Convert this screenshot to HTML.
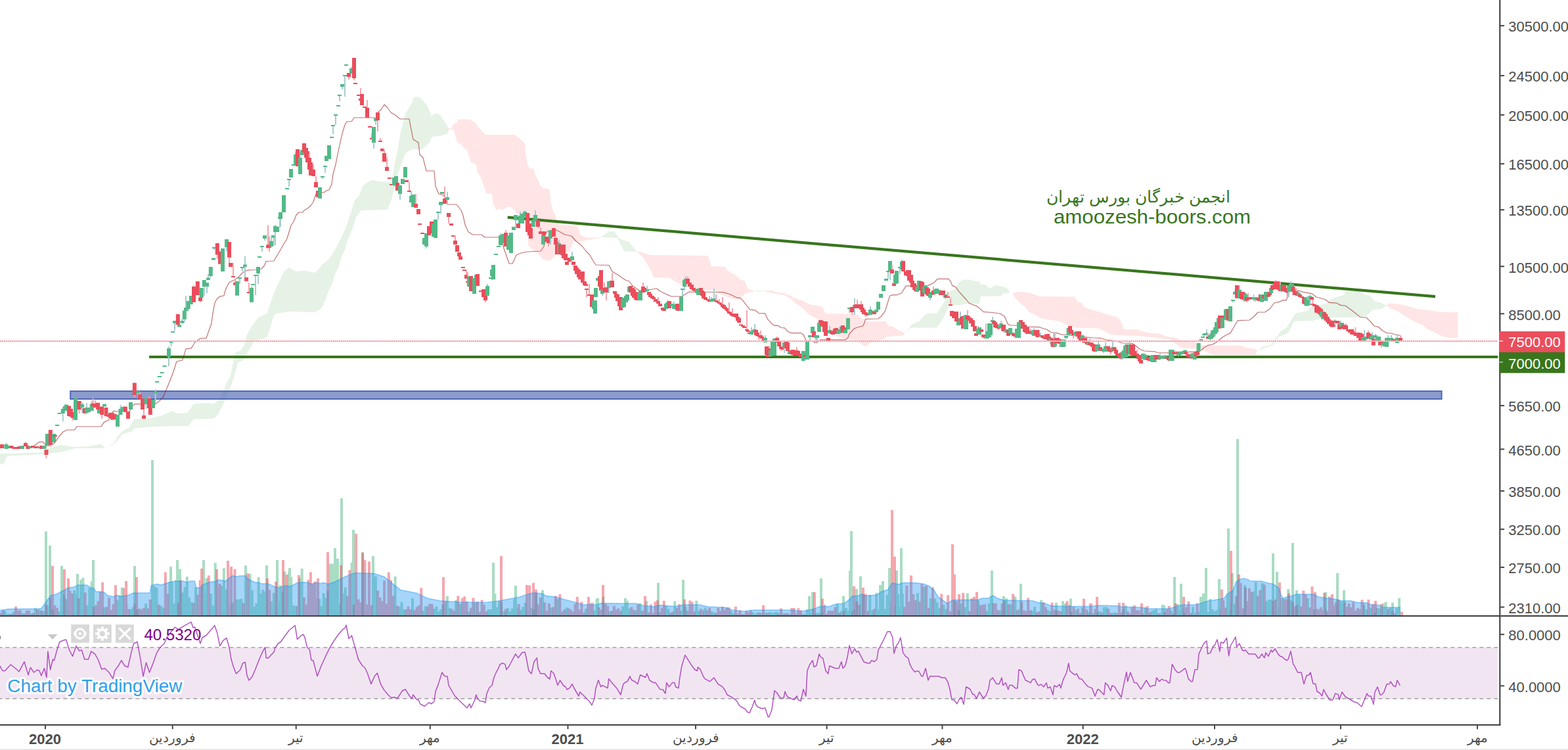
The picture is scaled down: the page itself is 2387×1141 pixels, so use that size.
<!DOCTYPE html>
<html><head><meta charset="utf-8"><title>Chart</title><style>html,body{margin:0;padding:0;background:#fff;overflow:hidden}</style></head><body>
<svg width="2387" height="1141" viewBox="0 0 2387 1141" style="display:block;font-family:'Liberation Sans',sans-serif">
<rect width="2387" height="1141" fill="#fff"/>
<defs><clipPath id="cm"><rect x="0" y="0" width="2282.5" height="936"/></clipPath><clipPath id="cr"><rect x="0" y="938" width="2282.5" height="164"/></clipPath></defs>
<g clip-path="url(#cm)">
<path d="M5.6 937v-7.4h4v7.4zM8.9 937v-2.9h4v2.9zM12.2 937v-2.9h4v2.9zM18.8 937v-6.2h4v6.2zM32 937v-4.1h4v4.1zM45.2 937v-3.5h4v3.5zM51.8 937v-11.7h4v11.7zM58.4 937v-8.8h4v8.8zM65 937v-6.9h4v6.9zM71.6 937v-15.6h4v15.6zM78.2 937v-10.3h4v10.3zM88.1 937v-6.8h4v6.8zM91.4 937v-27.2h4v27.2zM94.7 937v-32.9h4v32.9zM98 937v-26.3h4v26.3zM111.2 937v-38.8h4v38.8zM114.5 937v-33.2h4v33.2zM121.1 937v-55h4v55zM124.4 937v-58.1h4v58.1zM131 937v-16.2h4v16.2zM134.3 937v-42.4h4v42.4zM137.6 937v-52.8h4v52.8zM157.4 937v-12.9h4v12.9zM177.2 937v-24.3h4v24.3zM180.5 937v-31.2h4v31.2zM183.8 937v-43.3h4v43.3zM197 937v-10.1h4v10.1zM200.3 937v-13.6h4v13.6zM206.9 937v-9.7h4v9.7zM220.1 937v-18.7h4v18.7zM230 937v-14.2h4v14.2zM233.3 937v-44.9h4v44.9zM236.6 937v-43h4v43zM243.2 937v-15.2h4v15.2zM246.5 937v-12.5h4v12.5zM256.4 937v-51.5h4v51.5zM259.7 937v-52.3h4v52.3zM263 937v-19h4v19zM266.3 937v-55h4v55zM276.2 937v-35.6h4v35.6zM279.5 937v-44h4v44zM282.8 937v-59.7h4v59.7zM286.1 937v-27.9h4v27.9zM289.4 937v-20.9h4v20.9zM296 937v-43.8h4v43.8zM305.9 937v-47.5h4v47.5zM309.2 937v-33.9h4v33.9zM312.5 937v-57.3h4v57.3zM319.1 937v-34h4v34zM322.4 937v-15.7h4v15.7zM325.7 937v-80.7h4v80.7zM335.6 937v-45.9h4v45.9zM338.9 937v-72.8h4v72.8zM342.2 937v-40.5h4v40.5zM352.1 937v-20.2h4v20.2zM358.7 937v-25.3h4v25.3zM362 937v-24.9h4v24.9zM365.3 937v-26h4v26zM371.9 937v-76.7h4v76.7zM378.5 937v-64.1h4v64.1zM381.8 937v-39.2h4v39.2zM385.1 937v-14.3h4v14.3zM388.4 937v-19.1h4v19.1zM391.7 937v-58.9h4v58.9zM395 937v-34.1h4v34.1zM398.3 937v-39.7h4v39.7zM401.6 937v-36.8h4v36.8zM411.5 937v-22.2h4v22.2zM414.8 937v-34.8h4v34.8zM421.4 937v-23.8h4v23.8zM424.7 937v-46.8h4v46.8zM428 937v-36.4h4v36.4zM431.3 937v-67.8h4v67.8zM437.9 937v-66.6h4v66.6zM441.2 937v-59.4h4v59.4zM444.5 937v-16.1h4v16.1zM447.8 937v-15.1h4v15.1zM454.4 937v-57.7h4v57.7zM457.7 937v-72.1h4v72.1zM484.1 937v-26.1h4v26.1zM487.4 937v-14.9h4v14.9zM490.7 937v-34.4h4v34.4zM494 937v-27.5h4v27.5zM497.3 937v-38.7h4v38.7zM500.6 937v-79.6h4v79.6zM503.9 937v-79.3h4v79.3zM507.2 937v-24.3h4v24.3zM510.5 937v-62.5h4v62.5zM513.8 937v-18.8h4v18.8zM520.4 937v-34.6h4v34.6zM523.7 937v-43.3h4v43.3zM533.6 937v-80.9h4v80.9zM566.6 937v-27.5h4v27.5zM569.9 937v-60h4v60zM599.6 937v-60.1h4v60.1zM606.2 937v-14.1h4v14.1zM609.5 937v-20.9h4v20.9zM612.8 937v-10h4v10zM626 937v-26.9h4v26.9zM642.5 937v-7.9h4v7.9zM645.8 937v-14.5h4v14.5zM659 937v-11h4v11zM662.3 937v-14.3h4v14.3zM665.6 937v-6.7h4v6.7zM668.9 937v-9.8h4v9.8zM672.2 937v-17.8h4v17.8zM678.8 937v-30.3h4v30.3zM682.1 937v-11.8h4v11.8zM692 937v-24.1h4v24.1zM698.6 937v-18.2h4v18.2zM711.8 937v-6.4h4v6.4zM721.7 937v-20h4v20zM741.5 937v-9.8h4v9.8zM744.8 937v-10.1h4v10.1zM748.1 937v-9h4v9zM751.4 937v-34.1h4v34.1zM754.7 937v-13.3h4v13.3zM758 937v-23h4v23zM761.3 937v-20.9h4v20.9zM764.6 937v-7.3h4v7.3zM771.2 937v-12h4v12zM774.5 937v-6.9h4v6.9zM777.8 937v-11.4h4v11.4zM781.1 937v-25.6h4v25.6zM784.4 937v-12.4h4v12.4zM791 937v-9h4v9zM794.3 937v-14h4v14zM797.6 937v-19.9h4v19.9zM807.5 937v-12.5h4v12.5zM810.8 937v-9.8h4v9.8zM814.1 937v-35.1h4v35.1zM824 937v-9.8h4v9.8zM837.2 937v-12.7h4v12.7zM847.1 937v-25.8h4v25.8zM860.3 937v-12.7h4v12.7zM890 937v-10.9h4v10.9zM903.2 937v-8.6h4v8.6zM906.5 937v-25.7h4v25.7zM916.4 937v-28.9h4v28.9zM926.3 937v-7.1h4v7.1zM946.1 937v-14.4h4v14.4zM949.4 937v-9.9h4v9.9zM952.7 937v-23.2h4v23.2zM956 937v-10.9h4v10.9zM965.9 937v-8.3h4v8.3zM972.5 937v-19.2h4v19.2zM982.4 937v-22.7h4v22.7zM1012.1 937v-14.8h4v14.8zM1015.4 937v-10.6h4v10.6zM1025.3 937v-22.6h4v22.6zM1035.2 937v-7.9h4v7.9zM1038.5 937v-9.5h4v9.5zM1041.8 937v-14.1h4v14.1zM1058.3 937v-23.3h4v23.3zM1061.6 937v-7.7h4v7.7zM1071.5 937v-12.4h4v12.4zM1081.4 937v-6.8h4v6.8zM1084.7 937v-5.3h4v5.3zM1111.1 937v-7.6h4v7.6zM1114.4 937v-3.5h4v3.5zM1144.1 937v-5.6h4v5.6zM1147.4 937v-2.7h4v2.7zM1150.7 937v-5.3h4v5.3zM1157.3 937v-4.3h4v4.3zM1163.9 937v-5h4v5zM1170.5 937v-5.9h4v5.9zM1173.8 937v-3.8h4v3.8zM1177.1 937v-5.2h4v5.2zM1180.4 937v-5.9h4v5.9zM1190.3 937v-4h4v4zM1200.2 937v-2.4h4v2.4zM1220 937v-2.7h4v2.7zM1226.6 937v-9.9h4v9.9zM1229.9 937v-7.6h4v7.6zM1233.2 937v-4.6h4v4.6zM1239.8 937v-3.9h4v3.9zM1243.1 937v-4.7h4v4.7zM1249.7 937v-5.8h4v5.8zM1272.8 937v-18.2h4v18.2zM1279.4 937v-7.4h4v7.4zM1286 937v-12h4v12zM1289.3 937v-8.4h4v8.4zM1292.6 937v-29.2h4v29.2zM1299.2 937v-10h4v10zM1309.1 937v-7.3h4v7.3zM1312.4 937v-32.7h4v32.7zM1322.3 937v-32.1h4v32.1zM1325.6 937v-8.4h4v8.4zM1332.2 937v-35.2h4v35.2zM1335.5 937v-9.5h4v9.5zM1338.8 937v-36.5h4v36.5zM1342.1 937v-10.4h4v10.4zM1345.4 937v-10.7h4v10.7zM1348.7 937v-32.2h4v32.2zM1352 937v-15.5h4v15.5zM1361.9 937v-16.5h4v16.5zM1365.2 937v-32.9h4v32.9zM1368.5 937v-13.5h4v13.5zM1371.8 937v-34h4v34zM1394.9 937v-34.8h4v34.8zM1404.8 937v-44.1h4v44.1zM1414.7 937v-27.1h4v27.1zM1421.3 937v-26.4h4v26.4zM1424.6 937v-20.5h4v20.5zM1427.9 937v-11.9h4v11.9zM1434.5 937v-17h4v17zM1437.8 937v-10.8h4v10.8zM1451 937v-23.2h4v23.2zM1457.6 937v-9.3h4v9.3zM1460.9 937v-19h4v19zM1467.5 937v-13.2h4v13.2zM1470.8 937v-34.5h4v34.5zM1487.3 937v-23.4h4v23.4zM1500.5 937v-7.7h4v7.7zM1503.8 937v-19.3h4v19.3zM1507.1 937v-31.4h4v31.4zM1520.3 937v-8.2h4v8.2zM1530.2 937v-26.8h4v26.8zM1536.8 937v-17.4h4v17.4zM1543.4 937v-29.4h4v29.4zM1550 937v-10.5h4v10.5zM1569.8 937v-7.9h4v7.9zM1573.1 937v-14.1h4v14.1zM1583 937v-24.2h4v24.2zM1592.9 937v-9.3h4v9.3zM1596.2 937v-7.1h4v7.1zM1616 937v-22.5h4v22.5zM1619.3 937v-11.5h4v11.5zM1635.8 937v-8.5h4v8.5zM1645.7 937v-12.5h4v12.5zM1655.6 937v-5.2h4v5.2zM1662.2 937v-4.4h4v4.4zM1668.8 937v-5.5h4v5.5zM1672.1 937v-7.2h4v7.2zM1678.7 937v-13.4h4v13.4zM1682 937v-13.5h4v13.5zM1691.9 937v-4.3h4v4.3zM1695.2 937v-5.4h4v5.4zM1708.4 937v-9.7h4v9.7zM1711.7 937v-15.8h4v15.8zM1738.1 937v-3.6h4v3.6zM1741.4 937v-13.3h4v13.3zM1751.3 937v-7.6h4v7.6zM1754.6 937v-8.9h4v8.9zM1757.9 937v-10.9h4v10.9zM1764.5 937v-4.3h4v4.3zM1767.8 937v-16.9h4v16.9zM1781 937v-8.4h4v8.4zM1790.9 937v-18.1h4v18.1zM1794.2 937v-8.3h4v8.3zM1797.5 937v-11.9h4v11.9zM1800.8 937v-4.2h4v4.2zM1814 937v-13.7h4v13.7zM1817.3 937v-4.4h4v4.4zM1823.9 937v-6.4h4v6.4zM1827.2 937v-23.2h4v23.2zM1830.5 937v-19.4h4v19.4zM1833.8 937v-8.6h4v8.6zM1837.1 937v-6h4v6zM1840.4 937v-26h4v26zM1843.7 937v-10.2h4v10.2zM1847 937v-6.9h4v6.9zM1850.3 937v-8.7h4v8.7zM1853.6 937v-13.9h4v13.9zM1866.8 937v-34.7h4v34.7zM1870.1 937v-8.4h4v8.4zM1873.4 937v-19.9h4v19.9zM1876.7 937v-18.4h4v18.4zM1893.2 937v-47h4v47zM1906.4 937v-37.2h4v37.2zM1909.7 937v-51.6h4v51.6zM1919.6 937v-49.5h4v49.5zM1926.2 937v-22.5h4v22.5zM1929.5 937v-24.4h4v24.4zM1932.8 937v-25h4v25zM1942.7 937v-13.8h4v13.8zM1949.3 937v-27.1h4v27.1zM1959.2 937v-40.7h4v40.7zM1962.5 937v-24.4h4v24.4zM1975.7 937v-32.4h4v32.4zM1988.9 937v-26.9h4v26.9zM1998.8 937v-9.4h4v9.4zM2038.4 937v-23.2h4v23.2zM2041.7 937v-20.5h4v20.5zM2074.7 937v-16.4h4v16.4zM2078 937v-10.1h4v10.1zM2084.6 937v-12.5h4v12.5zM2091.2 937v-5h4v5zM2094.5 937v-12.2h4v12.2zM2097.8 937v-11.5h4v11.5zM2104.4 937v-8.5h4v8.5zM2107.7 937v-21.2h4v21.2zM2114.3 937v-12.8h4v12.8zM2124.2 937v-11.7h4v11.7zM2127.5 937v-6.8h4v6.8zM68 937v-128.5h4v128.5zM74 937v-107h4v107zM92 937v-76h4v76zM116 937v-64h4v64zM140 937v-85h4v85zM203 937v-76h4v76zM230 937v-237h4v237zM258 937v-75h4v75zM268 937v-85h4v85zM272 937v-71h4v71zM308 937v-85h4v85zM404 937v-77h4v77zM420 937v-85h4v85zM439 937v-73h4v73zM508 937v-103h4v103zM512 937v-87h4v87zM518 937v-179h4v179zM536 937v-131h4v131zM550 937v-97h4v97zM566 937v-91h4v91zM749 937v-81h4v81zM783 937v-46h4v46zM824 937v-39h4v39zM908 937v-27h4v27zM950 937v-27h4v27zM1000 937v-50.3h4v50.3zM1038 937v-55h4v55zM1230 937v-30.3h4v30.3zM1235 937v-36.3h4v36.3zM1248 937v-57h4v57zM1282 937v-30.3h4v30.3zM1292 937v-69h4v69zM1294 937v-129h4v129zM1302 937v-41h4v41zM1308 937v-60.3h4v60.3zM1338 937v-47h4v47zM1342 937v-53h4v53zM1352 937v-73h4v73zM1363 937v-69h4v69zM1370 937v-103h4v103zM1508 937v-69h4v69zM1526 937v-30.3h4v30.3zM1552 937v-49h4v49zM1606 937v-20.3h4v20.3zM1620 937v-19h4v19zM1628 937v-26.3h4v26.3zM1770 937v-16h4v16zM1786 937v-59h4v59zM1796 937v-49h4v49zM1826 937v-29h4v29zM1830 937v-34.3h4v34.3zM1834 937v-73h4v73zM1854 937v-56.3h4v56.3zM1868 937v-133h4v133zM1874 937v-65h4v65zM1882 937v-269h4v269zM1936 937v-95h4v95zM1942 937v-67h4v67zM1966 937v-111h4v111zM1972 937v-39h4v39zM2016 937v-36.3h4v36.3zM2034 937v-65h4v65zM2044 937v-39h4v39zM2104 937v-19h4v19zM2118 937v-20.3h4v20.3zM2128 937v-27h4v27z" fill="#53b987" fill-opacity="0.5"/>
<path d="M-1 937v-4.6h4v4.6zM2.3 937v-8.7h4v8.7zM15.5 937v-3h4v3zM22.1 937v-14.4h4v14.4zM25.4 937v-8.4h4v8.4zM28.7 937v-8.4h4v8.4zM35.3 937v-3.4h4v3.4zM38.6 937v-7.9h4v7.9zM41.9 937v-8.4h4v8.4zM48.5 937v-4.2h4v4.2zM55.1 937v-10.1h4v10.1zM61.7 937v-8.3h4v8.3zM68.3 937v-16.9h4v16.9zM74.9 937v-27.5h4v27.5zM81.5 937v-16.3h4v16.3zM84.8 937v-11.9h4v11.9zM101.3 937v-23h4v23zM104.6 937v-38h4v38zM107.9 937v-33.9h4v33.9zM117.8 937v-27.1h4v27.1zM127.7 937v-35.4h4v35.4zM140.9 937v-13.7h4v13.7zM144.2 937v-16.5h4v16.5zM147.5 937v-22.4h4v22.4zM150.8 937v-36.2h4v36.2zM154.1 937v-51.3h4v51.3zM160.7 937v-13.8h4v13.8zM164 937v-27.5h4v27.5zM167.3 937v-9h4v9zM170.6 937v-17.8h4v17.8zM173.9 937v-47h4v47zM187.1 937v-42.3h4v42.3zM190.4 937v-19h4v19zM193.7 937v-10.6h4v10.6zM203.6 937v-18.2h4v18.2zM210.2 937v-11h4v11zM213.5 937v-9.8h4v9.8zM216.8 937v-12.2h4v12.2zM223.4 937v-11.5h4v11.5zM226.7 937v-25h4v25zM239.9 937v-17.2h4v17.2zM249.8 937v-66.5h4v66.5zM253.1 937v-33.7h4v33.7zM269.6 937v-20h4v20zM272.9 937v-54.3h4v54.3zM292.7 937v-19.8h4v19.8zM299.3 937v-32.2h4v32.2zM302.6 937v-54.4h4v54.4zM315.8 937v-61.4h4v61.4zM329 937v-43.8h4v43.8zM332.3 937v-49.1h4v49.1zM345.5 937v-64.2h4v64.2zM348.8 937v-18.2h4v18.2zM355.4 937v-71.2h4v71.2zM368.6 937v-19.6h4v19.6zM375.2 937v-64.7h4v64.7zM404.9 937v-56.9h4v56.9zM408.2 937v-39.6h4v39.6zM418.1 937v-52.3h4v52.3zM434.6 937v-62.7h4v62.7zM451.1 937v-15.2h4v15.2zM461 937v-28h4v28zM464.3 937v-17.2h4v17.2zM467.6 937v-55.1h4v55.1zM470.9 937v-66.6h4v66.6zM474.2 937v-49.1h4v49.1zM477.5 937v-52.3h4v52.3zM480.8 937v-27h4v27zM517.1 937v-77.1h4v77.1zM527 937v-30h4v30zM530.3 937v-69.8h4v69.8zM536.9 937v-17h4v17zM540.2 937v-27.1h4v27.1zM543.5 937v-25.2h4v25.2zM546.8 937v-20.6h4v20.6zM550.1 937v-95.8h4v95.8zM553.4 937v-84.8h4v84.8zM556.7 937v-17.4h4v17.4zM560 937v-82.7h4v82.7zM563.3 937v-16.6h4v16.6zM573.2 937v-38.4h4v38.4zM576.5 937v-28h4v28zM579.8 937v-22.4h4v22.4zM583.1 937v-53.7h4v53.7zM586.4 937v-18.6h4v18.6zM589.7 937v-66.3h4v66.3zM593 937v-54.6h4v54.6zM596.3 937v-30.7h4v30.7zM602.9 937v-15.5h4v15.5zM616.1 937v-10.1h4v10.1zM619.4 937v-14.4h4v14.4zM622.7 937v-9.9h4v9.9zM629.3 937v-8.9h4v8.9zM632.6 937v-13.7h4v13.7zM635.9 937v-16.2h4v16.2zM639.2 937v-42.7h4v42.7zM649.1 937v-14.8h4v14.8zM652.4 937v-18.4h4v18.4zM655.7 937v-18.1h4v18.1zM675.5 937v-22h4v22zM685.4 937v-10.7h4v10.7zM688.7 937v-7.9h4v7.9zM695.3 937v-30.6h4v30.6zM701.9 937v-27.3h4v27.3zM705.2 937v-29.8h4v29.8zM708.5 937v-22.3h4v22.3zM715.1 937v-12.2h4v12.2zM718.4 937v-27.5h4v27.5zM725 937v-21.8h4v21.8zM728.3 937v-6.2h4v6.2zM731.6 937v-24.2h4v24.2zM734.9 937v-17h4v17zM738.2 937v-6.6h4v6.6zM767.9 937v-10.6h4v10.6zM787.7 937v-18h4v18zM800.9 937v-9.1h4v9.1zM804.2 937v-46.5h4v46.5zM817.4 937v-17.3h4v17.3zM820.7 937v-28h4v28zM827.3 937v-20.6h4v20.6zM830.6 937v-7.8h4v7.8zM833.9 937v-19h4v19zM840.5 937v-13.4h4v13.4zM843.8 937v-30.4h4v30.4zM850.4 937v-32.9h4v32.9zM853.7 937v-6.4h4v6.4zM857 937v-9.8h4v9.8zM863.6 937v-11.8h4v11.8zM866.9 937v-9.6h4v9.6zM870.2 937v-6.6h4v6.6zM873.5 937v-18.4h4v18.4zM876.8 937v-29.1h4v29.1zM880.1 937v-9.6h4v9.6zM883.4 937v-21.5h4v21.5zM886.7 937v-5.2h4v5.2zM893.3 937v-19.1h4v19.1zM896.6 937v-19.5h4v19.5zM899.9 937v-20.1h4v20.1zM909.8 937v-13h4v13zM913.1 937v-9.4h4v9.4zM919.7 937v-18.3h4v18.3zM923 937v-15.5h4v15.5zM929.6 937v-7.7h4v7.7zM932.9 937v-15.2h4v15.2zM936.2 937v-9.7h4v9.7zM939.5 937v-11.6h4v11.6zM942.8 937v-7.8h4v7.8zM959.3 937v-13.4h4v13.4zM962.6 937v-9.2h4v9.2zM969.2 937v-17.2h4v17.2zM975.8 937v-7.5h4v7.5zM979.1 937v-9.6h4v9.6zM985.7 937v-5.3h4v5.3zM989 937v-17.4h4v17.4zM992.3 937v-4.2h4v4.2zM995.6 937v-21.7h4v21.7zM998.9 937v-23.7h4v23.7zM1002.2 937v-5.2h4v5.2zM1005.5 937v-12.2h4v12.2zM1008.8 937v-23.1h4v23.1zM1018.7 937v-4.6h4v4.6zM1022 937v-6.5h4v6.5zM1028.6 937v-12h4v12zM1031.9 937v-17.7h4v17.7zM1045.1 937v-7.9h4v7.9zM1048.4 937v-23.6h4v23.6zM1051.7 937v-21.3h4v21.3zM1055 937v-6.8h4v6.8zM1064.9 937v-10.7h4v10.7zM1068.2 937v-8.6h4v8.6zM1074.8 937v-8.6h4v8.6zM1078.1 937v-12.2h4v12.2zM1088 937v-4.3h4v4.3zM1091.3 937v-12h4v12zM1094.6 937v-7.4h4v7.4zM1097.9 937v-14.1h4v14.1zM1101.2 937v-9.3h4v9.3zM1104.5 937v-13.6h4v13.6zM1107.8 937v-12.9h4v12.9zM1117.7 937v-5.2h4v5.2zM1121 937v-3.1h4v3.1zM1124.3 937v-8.4h4v8.4zM1127.6 937v-2.6h4v2.6zM1130.9 937v-2.8h4v2.8zM1134.2 937v-7.6h4v7.6zM1137.5 937v-5.5h4v5.5zM1140.8 937v-8.7h4v8.7zM1154 937v-5h4v5zM1160.6 937v-2.5h4v2.5zM1167.2 937v-4.4h4v4.4zM1183.7 937v-3.9h4v3.9zM1187 937v-11.5h4v11.5zM1193.6 937v-3.9h4v3.9zM1196.9 937v-4.3h4v4.3zM1203.5 937v-12.1h4v12.1zM1206.8 937v-12.1h4v12.1zM1210.1 937v-3.5h4v3.5zM1213.4 937v-11.8h4v11.8zM1216.7 937v-8.8h4v8.8zM1223.3 937v-2.3h4v2.3zM1236.5 937v-10.6h4v10.6zM1246.4 937v-3.2h4v3.2zM1253 937v-17.3h4v17.3zM1256.3 937v-3.4h4v3.4zM1259.6 937v-8.1h4v8.1zM1262.9 937v-7.8h4v7.8zM1266.2 937v-7.9h4v7.9zM1269.5 937v-13.5h4v13.5zM1276.1 937v-5h4v5zM1282.7 937v-7.4h4v7.4zM1295.9 937v-6.9h4v6.9zM1302.5 937v-22.2h4v22.2zM1305.8 937v-16.8h4v16.8zM1315.7 937v-33.6h4v33.6zM1319 937v-7.6h4v7.6zM1328.9 937v-10.8h4v10.8zM1355.3 937v-21.5h4v21.5zM1358.6 937v-16h4v16zM1375.1 937v-13.8h4v13.8zM1378.4 937v-45.9h4v45.9zM1381.7 937v-21.4h4v21.4zM1385 937v-61.5h4v61.5zM1388.3 937v-33h4v33zM1391.6 937v-24.1h4v24.1zM1398.2 937v-21.7h4v21.7zM1401.5 937v-48.2h4v48.2zM1408.1 937v-46h4v46zM1411.4 937v-12.3h4v12.3zM1418 937v-43.6h4v43.6zM1431.2 937v-33.4h4v33.4zM1441.1 937v-31.5h4v31.5zM1444.4 937v-6.9h4v6.9zM1447.7 937v-7.4h4v7.4zM1454.3 937v-21.9h4v21.9zM1464.2 937v-34.9h4v34.9zM1474.1 937v-7.1h4v7.1zM1477.4 937v-26.7h4v26.7zM1480.7 937v-28.9h4v28.9zM1484 937v-21.1h4v21.1zM1490.6 937v-16.6h4v16.6zM1493.9 937v-17h4v17zM1497.2 937v-17.7h4v17.7zM1510.4 937v-19.2h4v19.2zM1513.7 937v-19h4v19zM1517 937v-9h4v9zM1523.6 937v-18.9h4v18.9zM1526.9 937v-23.1h4v23.1zM1533.5 937v-18.1h4v18.1zM1540.1 937v-33.6h4v33.6zM1546.7 937v-8.8h4v8.8zM1553.3 937v-21.3h4v21.3zM1556.6 937v-8.5h4v8.5zM1559.9 937v-7.3h4v7.3zM1563.2 937v-27.4h4v27.4zM1566.5 937v-8.8h4v8.8zM1576.4 937v-5.4h4v5.4zM1579.7 937v-6.6h4v6.6zM1586.3 937v-20.6h4v20.6zM1589.6 937v-13.4h4v13.4zM1599.5 937v-20.2h4v20.2zM1602.8 937v-8.9h4v8.9zM1606.1 937v-8.8h4v8.8zM1609.4 937v-8.1h4v8.1zM1612.7 937v-6.5h4v6.5zM1622.6 937v-22.6h4v22.6zM1625.9 937v-16.4h4v16.4zM1629.2 937v-6.3h4v6.3zM1632.5 937v-13.8h4v13.8zM1639.1 937v-10.9h4v10.9zM1642.4 937v-4.5h4v4.5zM1649 937v-11.6h4v11.6zM1652.3 937v-9.4h4v9.4zM1658.9 937v-19.1h4v19.1zM1665.5 937v-10.4h4v10.4zM1675.4 937v-4.7h4v4.7zM1685.3 937v-11h4v11zM1688.6 937v-4.3h4v4.3zM1698.5 937v-4.1h4v4.1zM1701.8 937v-19.9h4v19.9zM1705.1 937v-5.2h4v5.2zM1715 937v-6.5h4v6.5zM1718.3 937v-3.8h4v3.8zM1721.6 937v-13.5h4v13.5zM1724.9 937v-16.2h4v16.2zM1728.2 937v-8.7h4v8.7zM1731.5 937v-8.5h4v8.5zM1734.8 937v-4.1h4v4.1zM1744.7 937v-14.9h4v14.9zM1748 937v-5.3h4v5.3zM1761.2 937v-3.7h4v3.7zM1771.1 937v-6.1h4v6.1zM1774.4 937v-10.2h4v10.2zM1777.7 937v-15h4v15zM1784.3 937v-3.6h4v3.6zM1787.6 937v-19.2h4v19.2zM1804.1 937v-13.2h4v13.2zM1807.4 937v-22h4v22zM1810.7 937v-4.2h4v4.2zM1820.6 937v-19.4h4v19.4zM1856.9 937v-10h4v10zM1860.2 937v-23.9h4v23.9zM1863.5 937v-12.7h4v12.7zM1880 937v-30.1h4v30.1zM1883.3 937v-51.7h4v51.7zM1886.6 937v-49.9h4v49.9zM1889.9 937v-11.7h4v11.7zM1896.5 937v-22.6h4v22.6zM1899.8 937v-42.1h4v42.1zM1903.1 937v-36.5h4v36.5zM1913 937v-30.2h4v30.2zM1916.3 937v-39h4v39zM1922.9 937v-47.6h4v47.6zM1936.1 937v-22.7h4v22.7zM1939.4 937v-25h4v25zM1946 937v-50.8h4v50.8zM1952.6 937v-25.7h4v25.7zM1955.9 937v-25.5h4v25.5zM1965.8 937v-21.3h4v21.3zM1969.1 937v-14.3h4v14.3zM1972.4 937v-16.8h4v16.8zM1979 937v-14.4h4v14.4zM1982.3 937v-38.6h4v38.6zM1985.6 937v-33h4v33zM1992.2 937v-13h4v13zM1995.5 937v-44.7h4v44.7zM2002.1 937v-11h4v11zM2005.4 937v-9.7h4v9.7zM2008.7 937v-13.2h4v13.2zM2012 937v-8.8h4v8.8zM2015.3 937v-10.6h4v10.6zM2018.6 937v-7.5h4v7.5zM2021.9 937v-29.4h4v29.4zM2025.2 937v-17.8h4v17.8zM2028.5 937v-16.4h4v16.4zM2031.8 937v-20.9h4v20.9zM2035.1 937v-25.3h4v25.3zM2045 937v-20.8h4v20.8zM2048.3 937v-14h4v14zM2051.6 937v-19h4v19zM2054.9 937v-12.9h4v12.9zM2058.2 937v-21h4v21zM2061.5 937v-8.1h4v8.1zM2064.8 937v-11.7h4v11.7zM2068.1 937v-10.6h4v10.6zM2071.4 937v-24.5h4v24.5zM2081.3 937v-24.8h4v24.8zM2087.9 937v-18.2h4v18.2zM2101.1 937v-17.9h4v17.9zM2111 937v-10.4h4v10.4zM2117.6 937v-8h4v8zM2120.9 937v-4.3h4v4.3zM78 937v-76h4v76zM96 937v-71h4v71zM102 937v-57h4v57zM190 937v-53h4v53zM206 937v-59h4v59zM305 937v-72h4v72zM328 937v-71h4v71zM345 937v-84h4v84zM350 937v-75h4v75zM429 937v-85h4v85zM453 937v-62h4v62zM482 937v-57h4v57zM497 937v-97h4v97zM540 937v-125h4v125zM552 937v-85h4v85zM590 937v-61h4v61zM673 937v-59h4v59zM761 937v-91h4v91zM800 937v-47h4v47zM810 937v-50.3h4v50.3zM814 937v-40.3h4v40.3zM894 937v-29h4v29zM916 937v-47h4v47zM980 937v-30.3h4v30.3zM1040 937v-25.3h4v25.3zM1118 937v-14.3h4v14.3zM1160 937v-16.3h4v16.3zM1238 937v-36.3h4v36.3zM1250 937v-26.3h4v26.3zM1298 937v-45h4v45zM1312 937v-43h4v43zM1356 937v-161h4v161zM1360 937v-90.3h4v90.3zM1385 937v-43h4v43zM1448 937v-109h4v109zM1451 937v-63h4v63zM1458 937v-33h4v33zM1485 937v-36.3h4v36.3zM1648 937v-26.3h4v26.3zM1658 937v-19h4v19zM1668 937v-29h4v29zM1708 937v-20h4v20zM1736 937v-19h4v19zM1800 937v-29h4v29zM1858 937v-40.3h4v40.3zM1872 937v-99h4v99zM1884 937v-63h4v63zM1894 937v-43h4v43zM1960 937v-34.3h4v34.3zM2000 937v-36.3h4v36.3zM2014 937v-35h4v35zM2026 937v-33h4v33zM2073 937v-20h4v20zM2092 937v-23h4v23zM2132 937v-6.3h4v6.3z" fill="#eb4d5c" fill-opacity="0.5"/>
<polygon points="0,937 0,928.7 12.6,926.6 58.6,926.2 62.8,925.6 67,920.3 71.2,914 77.5,905.7 85.9,904 94.3,899.4 104.7,894 113,893 118.3,890 132,890 138,894 142.4,894.8 146.6,900.4 152.9,900 159.2,901.5 163.4,905.7 171.8,907.8 178,905.7 184.3,907.4 194.8,905.7 203,902 228.3,902 230.4,891 238.8,888.5 245,890 257.6,885.8 268,884 278.6,884 284.9,886 290,884 296.4,884 298.5,894 305.8,894 307.9,890 318.4,885.8 326.8,884.7 333,882 343.5,884 347.7,880.5 354,876 360.3,877.4 364.5,876 373.9,876 377,880.5 387.5,885.8 393.8,886.4 398,888 408.5,888 418.9,893 425.2,894 435.7,891 442,892 452.4,886.8 460.8,885.8 469.2,886.4 473.4,888.5 481.8,886.4 488,887.9 492.2,886.4 500,888.5 510,885 525,877.5 540,871.5 570,872.5 585,877.5 600,890 610,897.5 635,902.5 650,910 670,914 700,916 740,916.5 760,914 790,908.5 795,906.7 812,901.7 825,903 832,906.7 845,908 862,912.7 875,916 888,920 908,920 915,917.7 942,918 968,918 978,921 995,923 1005,920.7 1028,922.7 1042,920 1065,920 1078,923 1102,924 1115,928 1132,930 1148,928 1208,928 1218,930 1228,929 1238,926.7 1248,922.7 1262,922.7 1272,919 1285,918 1292,913 1298,906.7 1305,906.7 1312,904 1318,906.7 1335,905 1342,900 1352,896.7 1358,886.7 1368,889 1375,886.7 1392,886.7 1405,888 1415,891.7 1422,898 1428,908 1435,913 1442,918 1450,913 1462,912.7 1488,912.7 1495,910 1505,910 1512,906 1518,910 1528,913 1572,914 1582,917 1590,917.7 1600,921.7 1623,922.7 1657,922.7 1673,921 1700,921.7 1707,923 1737,924 1747,926 1780,926 1790,923 1800,920 1823,920 1830,917 1840,914 1850,912.7 1857,911.7 1863,910 1870,903 1877,898 1882,885 1887,881.7 1893,880 1900,881.7 1903,884 1920,884 1930,887 1937,888 1943,891.7 1947,895 1950,905 1953,910 1960,908 1967,906.7 1973,904 2000,904 2007,908 2020,910 2033,911.7 2040,914 2057,914 2067,916.7 2080,917 2087,920 2100,920.7 2105,924 2132,924 2132,937" fill="#2196f3" fill-opacity="0.4"/>
<polyline points="0,928.7 12.6,926.6 58.6,926.2 62.8,925.6 67,920.3 71.2,914 77.5,905.7 85.9,904 94.3,899.4 104.7,894 113,893 118.3,890 132,890 138,894 142.4,894.8 146.6,900.4 152.9,900 159.2,901.5 163.4,905.7 171.8,907.8 178,905.7 184.3,907.4 194.8,905.7 203,902 228.3,902 230.4,891 238.8,888.5 245,890 257.6,885.8 268,884 278.6,884 284.9,886 290,884 296.4,884 298.5,894 305.8,894 307.9,890 318.4,885.8 326.8,884.7 333,882 343.5,884 347.7,880.5 354,876 360.3,877.4 364.5,876 373.9,876 377,880.5 387.5,885.8 393.8,886.4 398,888 408.5,888 418.9,893 425.2,894 435.7,891 442,892 452.4,886.8 460.8,885.8 469.2,886.4 473.4,888.5 481.8,886.4 488,887.9 492.2,886.4 500,888.5 510,885 525,877.5 540,871.5 570,872.5 585,877.5 600,890 610,897.5 635,902.5 650,910 670,914 700,916 740,916.5 760,914 790,908.5 795,906.7 812,901.7 825,903 832,906.7 845,908 862,912.7 875,916 888,920 908,920 915,917.7 942,918 968,918 978,921 995,923 1005,920.7 1028,922.7 1042,920 1065,920 1078,923 1102,924 1115,928 1132,930 1148,928 1208,928 1218,930 1228,929 1238,926.7 1248,922.7 1262,922.7 1272,919 1285,918 1292,913 1298,906.7 1305,906.7 1312,904 1318,906.7 1335,905 1342,900 1352,896.7 1358,886.7 1368,889 1375,886.7 1392,886.7 1405,888 1415,891.7 1422,898 1428,908 1435,913 1442,918 1450,913 1462,912.7 1488,912.7 1495,910 1505,910 1512,906 1518,910 1528,913 1572,914 1582,917 1590,917.7 1600,921.7 1623,922.7 1657,922.7 1673,921 1700,921.7 1707,923 1737,924 1747,926 1780,926 1790,923 1800,920 1823,920 1830,917 1840,914 1850,912.7 1857,911.7 1863,910 1870,903 1877,898 1882,885 1887,881.7 1893,880 1900,881.7 1903,884 1920,884 1930,887 1937,888 1943,891.7 1947,895 1950,905 1953,910 1960,908 1967,906.7 1973,904 2000,904 2007,908 2020,910 2033,911.7 2040,914 2057,914 2067,916.7 2080,917 2087,920 2100,920.7 2105,924 2132,924" fill="none" stroke="#2196f3" stroke-opacity="0.45" stroke-width="1.7"/>
<polygon points="0,690 14,690 71,688 73,682 92,677 115,680 135,679 152,675.7 156,677 160,682 173.4,674.4 179,663.8 188.8,654 196.5,651 204,637.8 231,635.8 246.6,632 256,628 262,625 269.7,629 285,628 289,623 294.8,614.6 318,612.7 325.6,614.6 333,608.9 339,598 345,581.9 350.7,573 354.5,554 358.4,536.6 366,533.7 371.9,525 375.7,509.6 383,496.7 393,483 406.7,476.7 416.7,446.7 423,431.7 433,411.7 440,407 450,413 463,411.7 480,415 490,403 500,395 510,380 517,367 525,350 532,330 540,305 547,297 552,283 560,277 567,274 577,276 597,277 600,253 605,230 610,200 617,173 627,157 630,148 637,147 643,152 650,160 657,177 663,172 670,175 680,190 683,197 683,197 682,203 670,207 658,208 653,218 643,227 627,227 617,233 610,253 603,273 597,300 590,319 550,320 542,330 537,347 530,363 525,380 520,390 515,406.7 510,416.7 505,433 500,443 495,456.7 490,468 480,475 443,474 420,476.7 416.7,480 406.7,513 386.7,520 377.6,534.7 370,548 362,552 356.5,573 352.6,584.8 346.8,598 343,607.9 337,621 331.4,631 325.6,636.8 294.8,637.8 287,648 231,649 204,652 202,656 187,660 181,667.6 173.4,676 160,682 115,682 92,687.9 73,689.8 71,690.7 14,693.6 10,694.6 7,704 0,707" fill="#008000" fill-opacity="0.1"/>
<polygon points="681.7,195.3 688,194.4 690.9,187.9 695.5,187 697.3,181.5 714.8,181.5 724,187 727.7,193.5 733.3,199 738.8,204.9 783,205 788.6,209 795,213.7 799,219.3 800.6,235.9 803.3,250.6 806,256 812.5,257 815.3,267 818,271.8 822.7,282.9 826.4,286.5 836.5,287.5 838.3,305.9 841,318.8 844.8,326 847.6,333.5 850.3,339 853,342.8 877,343 881.7,350 883,357 893,362 917,361 917,361 887,367 873,367 867,383 847,387 837,397 827,395 820,387 812,380 805,375 802,353 798,333 785.8,324 783,319.7 778.4,315 772,315 764.6,319.7 760,317 755.4,319.7 750.8,309.6 749,294.8 740.6,293.9 731.4,269 726.8,261.7 725,250.6 716.7,246 711,227.6 706.5,225.7 702,219 696.4,217.4 691.8,200.8 689,196 681.7,197" fill="#ff0000" fill-opacity="0.1"/>
<polygon points="917,359 927,352 935,352 943,363 957,368 970,383 970,383 950,382 940,362 917,361" fill="#008000" fill-opacity="0.1"/>
<polygon points="970,383 973,383 990,388 1078,389 1083,405 1104,406 1106.6,411 1121.4,420 1126.4,425 1134,427.5 1136.4,435 1139,439.5 1150.3,443.2 1150.3,443.2 1141.5,444.5 1134,447 1127.6,453.3 1122.6,456.4 1116.3,455.2 1106.3,451.4 1100,449.5 1088.8,442 1075.5,441 1057,441 1040,435 1024.4,426.6 1020,423 995,422 990,410 980,393 970,383" fill="#ff0000" fill-opacity="0.1"/>
<polygon points="1150.3,443.2 1152,442 1161.6,442 1162.8,442.6 1162.8,443.2 1150.3,443.2" fill="#008000" fill-opacity="0.1"/>
<polygon points="1162.8,442.6 1175.4,441.6 1180.4,444.5 1193,445.8 1198,447.9 1203,448.9 1206.8,452.7 1213,454.6 1220.6,457 1228.2,460.8 1233.2,463.4 1239.5,464 1252,467 1257,477.2 1296,477.4 1306,479 1308.6,482.2 1312.4,484.7 1316,485.4 1317.4,488.9 1348.8,489 1352.6,495.4 1361.4,498 1366.4,502.3 1372.7,504.2 1377.7,507.3 1375.2,510.5 1375.2,510.5 1364,511 1348.8,512.4 1345,515.5 1338.8,517.4 1332.5,519.3 1325,521.8 1321.2,525 1316,526.8 1311,523 1301,517.4 1291,516.8 1276,512.4 1273.4,510.5 1265,505 1255,495 1245.8,486 1242,484 1237,481.6 1232,479 1227,474 1220.6,467.8 1213,462.7 1206.8,457.7 1203,454 1194.3,449.5 1181.7,447 1170.4,445 1162.8,443.2" fill="#ff0000" fill-opacity="0.1"/>
<polygon points="1375.2,510.5 1380.3,506.7 1382.8,500.4 1387.8,494 1392.8,491.6 1399.6,488.8 1404,483 1410.7,477 1426,476.6 1433,466.6 1439.6,455.5 1444,444.4 1455,438.9 1459.6,430 1466,425.5 1477.4,425.5 1484,427.8 1490.7,427.8 1493,433 1500,433 1506.7,439 1515.5,434 1529,436.6 1535.5,440 1536.6,445.5 1536.6,446 1526.6,446.6 1524,450 1517,450.6 1493,451 1490.7,462 1473,462 1464,463.7 1450.7,464.4 1444,466.6 1437.4,482 1433,488.8 1426,498.4 1395,498.4 1389,498.5 1384,500.4 1380.3,506.7 1375.2,510.5" fill="#008000" fill-opacity="0.1"/>
<polygon points="1541,446.6 1551,443.7 1569,445.5 1582,451 1636.5,451.5 1640,458.8 1646.5,461 1651,467.7 1668.7,473 1684,477.7 1693,481 1700,482 1706.5,488.8 1711,501 1733,501.5 1737.6,504 1751,506.6 1766.4,508 1775,511.7 1791,514 1797.5,517.7 1817.5,517.7 1822,525 1833,525.4 1890.8,525.9 1895,528.8 1908.5,530.5 1914,533 1910.7,540 1910.7,540 1848.6,540 1842,537.7 1828.6,531 1810.8,530 1797.5,528.8 1788.6,522 1782,516.6 1733,511 1700,510 1691,508.8 1682,504 1673,499.5 1637.7,498.8 1624,494.4 1613,488.8 1595.5,486.6 1584.4,484 1575.5,478.8 1566.6,474.4 1560,466.6 1553,461 1546.6,454.4 1541,446.6" fill="#ff0000" fill-opacity="0.1"/>
<polygon points="1914.7,534 1921,527.7 1934.7,524.8 1941,515.5 1950,504 1959,497.7 1968,483 1972.5,476.6 1990,473 1994.7,466.6 2008,464.4 2021,461 2025.7,455.5 2034.6,452 2045.7,448.8 2048,443 2070,443 2076.8,447.7 2085.7,450 2092,457.7 2103.4,461 2110,464.4 2110,464.4 2103.4,470 2090,471 2081,480 2070,482.6 2023.5,483 2008,485.5 1999,487.7 1970,488.8 1965.8,497.7 1961,506.6 1945.8,513 1937,525.4 1923.6,530 1914.7,534" fill="#008000" fill-opacity="0.1"/>
<polygon points="2110,464.4 2116.8,461.5 2136.8,463.7 2145.6,466.6 2159,470.6 2174.5,471.7 2190,474.4 2219,475 2219,514.3 2205.6,514 2194.5,511 2183.4,505.5 2172,500 2165.6,494.4 2156.7,491 2148,486.6 2139,481 2130,474.4 2119,470 2110,464.4" fill="#ff0000" fill-opacity="0.1"/>
<rect x="107.2" y="595.1" width="2087.4" height="11.9" fill="#3f58ac" fill-opacity="0.6" stroke="#4f66b5" stroke-width="2"/>
<line x1="227.1" y1="543" x2="2280.3" y2="543" stroke="#38761d" stroke-width="4"/>
<line x1="772.7" y1="330.7" x2="2185" y2="451.2" stroke="#38761d" stroke-width="4.2"/>
<polyline points="52,678 59.7,672.4 65.5,672.4 70.3,678 75,678 82.8,674.4 88.6,665.7 96,657 102,654 113.7,654 116.6,649 154,648.9 158,642.6 165.7,638.7 169.6,629 173.4,625 177,626 187,625.5 196.5,627 202,617.5 205,614.6 237,614.6 242.8,609.8 248.6,604 252.4,594.4 258,581 264,565.5 268.8,550 277.5,548 281,537.6 283,530.8 291,529.9 296.7,521 302.5,516.4 306,514.5 314,514.5 318,503 321.7,493 324,476.7 326.7,461.7 330,455 335,450.8 340.8,450 343,441.7 345.8,435 349,429.5 356.7,426 363,421.7 369,415 375,411.7 379,410.8 390,410.5 398,409 402.5,404 405,397.5 416.7,397 423,386.7 427,380 431.7,371.7 437,363 443,343 447,337 451,327 455,323 461,323 463,320 467,318 473,313 477,307 481,295 485,293 493,293 497,290 501,289 505,280 507,265 511,250 515,230 521,203 525,190 528,185 535,185 539,179 573,179 576,170 580,167 585,159 589,163 595,171 603,176 609,181 623,181 625,192 629,212 637,217 639,235 644,240 649,260 661,260 663,283 668,295 675,297 681,311 695,311 702,320 705,328 708,342 713,353 720,357 733,357 738,361 763,361 767,378 772,392 775,401 780,401 783,395 786,388 793,385 803,383 823,382 828,375 830,357 833,352 847,350 853,353 860,357 870,359 877,367 885,373 892,382 898,388 903,397 907,403 927,403.5 932,413 942,419 952,426 958,428 963,435 973,442 987,441 1000,439 1005,443 1013,447 1022,451 1038,451 1044,447 1049,444 1100,444.5 1105,445.8 1112.6,448.3 1121.4,452.7 1126.4,453.3 1130.2,456.4 1141.5,470.9 1150.3,472.2 1155.3,476.6 1164.7,476.8 1168.5,485.4 1175.4,492.9 1179.2,495.4 1184.2,495.2 1189.2,498.5 1194.3,498.8 1199.3,504.2 1204.3,506.7 1219.4,506.7 1223.2,509.2 1227,518 1237,518.7 1239.5,521.2 1243.3,521.2 1249.6,516.8 1287.3,516.8 1291,513.6 1292.9,508 1299.8,500.4 1303.6,498.5 1313.7,496 1316.2,490.4 1317.4,485.4 1336.3,485 1341.3,481.6 1347.6,472.8 1350.7,462.7 1354.5,450.2 1357.6,448.9 1365.2,448.7 1372.7,445.8 1379,435.1 1386.5,434.8 1413,434.4 1422,430 1427,424.4 1444,424.4 1447,427.8 1449.6,434.4 1455,436.6 1459.6,443.3 1470.7,455.5 1475,461 1488.5,466.6 1497,474.4 1511,475.5 1522,477 1529,481 1534.4,493 1537.7,495 1553,495 1557.7,497 1582,497.7 1593,501 1600,505.5 1609,506.6 1615.5,508.8 1624,509.5 1651,512.6 1664,514 1675,514.3 1684,517 1700,518.8 1708.7,522 1724,522.6 1728.7,526 1735,531 1742,534 1757.5,534.8 1762,536.5 1782,537 1786,535.4 1824,535.4 1828.6,533 1833,528.8 1838.6,525.4 1846,524 1853,520 1859.7,514 1866,510 1873,506.6 1877,500 1884,487.7 1902,487 1908.5,482 1915,475 1926,474.8 1933,470 1939.6,461 1948.5,458.8 1953,456.6 1958.5,456.6 1959.6,452 1962,443 1966,440 1975,441.5 1984,444.4 1997,446.6 2004,452 2017,455.5 2024,460.4 2034.6,461 2041,464.4 2048,465 2059,473 2071,482.6 2080,483 2085.7,488.8 2092,496 2099,497.7 2104.5,503 2111,506.6 2118,507 2123.4,509 2130,510 2133.4,512" fill="none" stroke="#991515" stroke-opacity="0.6" stroke-width="1.2" stroke-linejoin="round"/>
<path d="M0 676h6V682h-6z" fill="#eb4d5c"/><path d="M8.5 674h2V683h-2z" fill="#a9cdd3"/><path d="M6.5 676h6V683h-6z" fill="#53b987"/><path d="M10 678h6V682h-6z" fill="#53b987"/><path d="M14.5 678h6V682h-6z" fill="#eb4d5c"/><path d="M19 680h6V683h-6z" fill="#eb4d5c"/><path d="M23 680h6V683h-6z" fill="#eb4d5c"/><path d="M26.5 679h6V683h-6z" fill="#eb4d5c"/><path d="M31 678h6V683h-6z" fill="#53b987"/><path d="M38 672h2V679h-2z" fill="#f5a6ae"/><path d="M36 674h6V679h-6z" fill="#eb4d5c"/><path d="M39.5 678h6V683h-6z" fill="#eb4d5c"/><path d="M43 679h6V682h-6z" fill="#53b987"/><path d="M47 678h6V681h-6z" fill="#eb4d5c"/><path d="M50 680h6V682h-6z" fill="#53b987"/><path d="M53 679h6V682h-6z" fill="#eb4d5c"/><path d="M56.5 680h6V682h-6z" fill="#53b987"/><path d="M60 678h6V683h-6z" fill="#eb4d5c"/><path d="M64.5 678h6V683h-6z" fill="#53b987"/><path d="M69.5 684h2V697.5h-2z" fill="#f5a6ae"/><path d="M67.5 684h6V692h-6z" fill="#eb4d5c"/><path d="M69 660h6V678h-6z" fill="#53b987"/><path d="M75.8 654h2V680h-2z" fill="#f5a6ae"/><path d="M73.8 654h6V677h-6z" fill="#eb4d5c"/><path d="M79 660h6V673h-6z" fill="#53b987"/><path d="M81 662h6V664h-6z" fill="#eb4d5c"/><path d="M84 646h6V648h-6z" fill="#53b987"/><path d="M87.5 628h6V630h-6z" fill="#53b987"/><path d="M94.8 619h2V641.6h-2z" fill="#a9cdd3"/><path d="M92.8 622h6V629h-6z" fill="#53b987"/><path d="M98 615h2V625h-2z" fill="#a9cdd3"/><path d="M96 618h6V625h-6z" fill="#53b987"/><path d="M98 615.6h6V623h-6z" fill="#53b987"/><path d="M102 617.5h6V633h-6z" fill="#eb4d5c"/><path d="M105 622h6V634h-6z" fill="#eb4d5c"/><path d="M109.8 627h2V640h-2z" fill="#f5a6ae"/><path d="M107.8 627h6V636h-6z" fill="#eb4d5c"/><path d="M112 606h6V639h-6z" fill="#53b987"/><path d="M119.6 610h2V629h-2z" fill="#f5a6ae"/><path d="M117.6 610h6V623h-6z" fill="#eb4d5c"/><path d="M124 612h2V628h-2z" fill="#a9cdd3"/><path d="M122 615h6V620h-6z" fill="#53b987"/><path d="M126 621h6V629h-6z" fill="#eb4d5c"/><path d="M131 613h2V630h-2z" fill="#a9cdd3"/><path d="M129 620h6V628h-6z" fill="#53b987"/><path d="M132 620h6V627h-6z" fill="#53b987"/><path d="M138.7 610h2V625h-2z" fill="#a9cdd3"/><path d="M136.7 614.6h6V625h-6z" fill="#53b987"/><path d="M140.6 606h2V618.5h-2z" fill="#f5a6ae"/><path d="M138.6 613.7h6V618.5h-6z" fill="#eb4d5c"/><path d="M144 609h2V620h-2z" fill="#f5a6ae"/><path d="M142 614h6V620h-6z" fill="#eb4d5c"/><path d="M146 612.7h6V623h-6z" fill="#eb4d5c"/><path d="M147.8 623h6V629h-6z" fill="#53b987"/><path d="M154 618.5h2V637h-2z" fill="#f5a6ae"/><path d="M152 618.5h6V631h-6z" fill="#eb4d5c"/><path d="M156 614.6h6V618.5h-6z" fill="#53b987"/><path d="M158.5 620h6V633h-6z" fill="#eb4d5c"/><path d="M162 631h6V634h-6z" fill="#eb4d5c"/><path d="M165 628h6V636h-6z" fill="#eb4d5c"/><path d="M168 628h6V638.7h-6z" fill="#eb4d5c"/><path d="M172 630h6V638h-6z" fill="#eb4d5c"/><path d="M176 631h6V649h-6z" fill="#53b987"/><path d="M182.5 616h2V631h-2z" fill="#a9cdd3"/><path d="M180.5 622h6V631h-6z" fill="#53b987"/><path d="M184 619h6V626h-6z" fill="#53b987"/><path d="M187.8 618.5h6V627h-6z" fill="#eb4d5c"/><path d="M192 626h6V637h-6z" fill="#eb4d5c"/><path d="M196 612h6V623h-6z" fill="#53b987"/><path d="M199 598h6V600h-6z" fill="#53b987"/><path d="M203.8 582.5h2V604h-2z" fill="#f5a6ae"/><path d="M201.8 582.5h6V601h-6z" fill="#eb4d5c"/><path d="M209 595h2V602h-2z" fill="#a9cdd3"/><path d="M207 595h6V598h-6z" fill="#53b987"/><path d="M212 597h2V607h-2z" fill="#f5a6ae"/><path d="M210 600h6V607h-6z" fill="#eb4d5c"/><path d="M214 606h6V623h-6z" fill="#eb4d5c"/><path d="M218 623h2V637h-2z" fill="#f5a6ae"/><path d="M216 632h6V637h-6z" fill="#eb4d5c"/><path d="M221.5 606h2V622h-2z" fill="#a9cdd3"/><path d="M219.5 606h6V614h-6z" fill="#53b987"/><path d="M226 603h2V621h-2z" fill="#f5a6ae"/><path d="M224 606h6V621h-6z" fill="#eb4d5c"/><path d="M225.8 620h6V631h-6z" fill="#eb4d5c"/><path d="M230 608h6V621h-6z" fill="#53b987"/><path d="M235.6 592h2V614h-2z" fill="#a9cdd3"/><path d="M233.6 596h6V598h-6z" fill="#53b987"/><path d="M236 580h6V582h-6z" fill="#53b987"/><path d="M239.8 572h6V574h-6z" fill="#53b987"/><path d="M243.6 566h6V568h-6z" fill="#53b987"/><path d="M247.5 556h6V558h-6z" fill="#53b987"/><path d="M256 527h2V557h-2z" fill="#a9cdd3"/><path d="M254 530h6V543h-6z" fill="#53b987"/><path d="M259.6 519.6h2V527h-2z" fill="#a9cdd3"/><path d="M257.6 519.6h6V521.6h-6z" fill="#53b987"/><path d="M260 504h6V506h-6z" fill="#53b987"/><path d="M265 488h2V503h-2z" fill="#a9cdd3"/><path d="M263 488h6V491.7h-6z" fill="#53b987"/><path d="M267.8 478h6V494h-6z" fill="#eb4d5c"/><path d="M270 494h6V497.5h-6z" fill="#53b987"/><path d="M276.5 485h2V491.7h-2z" fill="#a9cdd3"/><path d="M274.5 488h6V491.7h-6z" fill="#53b987"/><path d="M279.8 472.5h2V490h-2z" fill="#a9cdd3"/><path d="M277.8 472.5h6V485.8h-6z" fill="#53b987"/><path d="M282 450h2V473h-2z" fill="#a9cdd3"/><path d="M280 468h6V473h-6z" fill="#53b987"/><path d="M285.7 458h2V474h-2z" fill="#a9cdd3"/><path d="M283.7 458h6V470h-6z" fill="#53b987"/><path d="M287.8 450h6V463h-6z" fill="#53b987"/><path d="M294 434h2V459.7h-2z" fill="#f5a6ae"/><path d="M292 436h6V459.7h-6z" fill="#eb4d5c"/><path d="M297.8 428h6V449h-6z" fill="#eb4d5c"/><path d="M304 452.5h2V460h-2z" fill="#f5a6ae"/><path d="M302 452.5h6V458h-6z" fill="#eb4d5c"/><path d="M303.7 438h6V453h-6z" fill="#53b987"/><path d="M309.8 426h2V450h-2z" fill="#a9cdd3"/><path d="M307.8 426h6V436h-6z" fill="#53b987"/><path d="M314 430h2V446h-2z" fill="#a9cdd3"/><path d="M312 430h6V436h-6z" fill="#53b987"/><path d="M316 417h2V426h-2z" fill="#a9cdd3"/><path d="M314 422.5h6V426h-6z" fill="#53b987"/><path d="M319.8 406h2V422h-2z" fill="#a9cdd3"/><path d="M317.8 406h6V420h-6z" fill="#53b987"/><path d="M322 392.5h6V395.5h-6z" fill="#53b987"/><path d="M325 376h2V380h-2z" fill="#a9cdd3"/><path d="M323 376h6V378h-6z" fill="#53b987"/><path d="M329.8 370h2V394h-2z" fill="#f5a6ae"/><path d="M327.8 370h6V387.5h-6z" fill="#eb4d5c"/><path d="M332 382.5h6V401.7h-6z" fill="#eb4d5c"/><path d="M336 378h6V413h-6z" fill="#53b987"/><path d="M344 364h2V382h-2z" fill="#a9cdd3"/><path d="M342 364h6V376h-6z" fill="#53b987"/><path d="M348 368h2V400h-2z" fill="#f5a6ae"/><path d="M346 368h6V391.7h-6z" fill="#eb4d5c"/><path d="M348 400h6V406h-6z" fill="#eb4d5c"/><path d="M354 400h2V422h-2z" fill="#f5a6ae"/><path d="M352 420h6V422h-6z" fill="#eb4d5c"/><path d="M357 424h2V433.7h-2z" fill="#f5a6ae"/><path d="M355 430h6V433.7h-6z" fill="#eb4d5c"/><path d="M358 428h6V449.7h-6z" fill="#53b987"/><path d="M364 422h2V432h-2z" fill="#a9cdd3"/><path d="M362 422h6V424h-6z" fill="#53b987"/><path d="M367.8 406h2V413h-2z" fill="#a9cdd3"/><path d="M365.8 406h6V408h-6z" fill="#53b987"/><path d="M372 390h2V422h-2z" fill="#a9cdd3"/><path d="M370 402.5h6V405.8h-6z" fill="#53b987"/><path d="M372 422h6V427.8h-6z" fill="#eb4d5c"/><path d="M377.8 430h2V446h-2z" fill="#f5a6ae"/><path d="M375.8 444h6V446h-6z" fill="#eb4d5c"/><path d="M382 436h2V459.7h-2z" fill="#a9cdd3"/><path d="M380 438h6V459.7h-6z" fill="#53b987"/><path d="M382 432h6V434h-6z" fill="#53b987"/><path d="M388 418h2V449h-2z" fill="#a9cdd3"/><path d="M386 418h6V420h-6z" fill="#53b987"/><path d="M392 406h2V432h-2z" fill="#a9cdd3"/><path d="M390 406h6V415.8h-6z" fill="#53b987"/><path d="M392 390h6V392h-6z" fill="#53b987"/><path d="M398 374h2V383h-2z" fill="#a9cdd3"/><path d="M396 374h6V376h-6z" fill="#53b987"/><path d="M402 358h2V366h-2z" fill="#a9cdd3"/><path d="M400 358h6V363h-6z" fill="#53b987"/><path d="M407 342.5h2V377.5h-2z" fill="#f5a6ae"/><path d="M405 372.5h6V377.5h-6z" fill="#eb4d5c"/><path d="M409 360h2V383h-2z" fill="#f5a6ae"/><path d="M407 372h6V377h-6z" fill="#eb4d5c"/><path d="M412 358h2V375h-2z" fill="#a9cdd3"/><path d="M410 366.7h6V375h-6z" fill="#53b987"/><path d="M415.7 358h2V374h-2z" fill="#a9cdd3"/><path d="M413.7 358h6V361.7h-6z" fill="#53b987"/><path d="M418 342h2V373h-2z" fill="#a9cdd3"/><path d="M416 344h6V353h-6z" fill="#53b987"/><path d="M419 345h6V353h-6z" fill="#53b987"/><path d="M425 330h2V346h-2z" fill="#a9cdd3"/><path d="M423 330h6V333h-6z" fill="#53b987"/><path d="M426 323h2V345h-2z" fill="#a9cdd3"/><path d="M424 323h6V333h-6z" fill="#53b987"/><path d="M429 297h6V323h-6z" fill="#53b987"/><path d="M434 286h6V288h-6z" fill="#53b987"/><path d="M439 272h2V284h-2z" fill="#a9cdd3"/><path d="M437 272h6V274h-6z" fill="#53b987"/><path d="M440 257h6V270h-6z" fill="#53b987"/><path d="M444 250h6V252h-6z" fill="#53b987"/><path d="M449 232h2V250h-2z" fill="#a9cdd3"/><path d="M447 235h6V250h-6z" fill="#53b987"/><path d="M450 227h6V253h-6z" fill="#eb4d5c"/><path d="M456 230h2V265h-2z" fill="#a9cdd3"/><path d="M454 240h6V265h-6z" fill="#53b987"/><path d="M457 228h6V236h-6z" fill="#53b987"/><path d="M460 218h6V232h-6z" fill="#eb4d5c"/><path d="M463 225h6V240h-6z" fill="#eb4d5c"/><path d="M465 230h6V247h-6z" fill="#eb4d5c"/><path d="M470 233h2V258h-2z" fill="#f5a6ae"/><path d="M468 240h6V258h-6z" fill="#eb4d5c"/><path d="M470 247h6V267h-6z" fill="#eb4d5c"/><path d="M476 250h2V268h-2z" fill="#f5a6ae"/><path d="M474 258h6V268h-6z" fill="#eb4d5c"/><path d="M480 268h2V285h-2z" fill="#f5a6ae"/><path d="M478 277h6V285h-6z" fill="#eb4d5c"/><path d="M481 290h6V300h-6z" fill="#eb4d5c"/><path d="M484 285h6V302h-6z" fill="#53b987"/><path d="M490 268h2V272h-2z" fill="#a9cdd3"/><path d="M488 268h6V270h-6z" fill="#53b987"/><path d="M494 252h2V263h-2z" fill="#a9cdd3"/><path d="M492 252h6V254h-6z" fill="#53b987"/><path d="M494 237h6V245h-6z" fill="#53b987"/><path d="M498 221h6V242h-6z" fill="#53b987"/><path d="M502 208h6V210h-6z" fill="#53b987"/><path d="M506 190h2V204h-2z" fill="#a9cdd3"/><path d="M504 190h6V192h-6z" fill="#53b987"/><path d="M510 174h2V190h-2z" fill="#a9cdd3"/><path d="M508 174h6V176h-6z" fill="#53b987"/><path d="M512 160h6V162h-6z" fill="#53b987"/><path d="M516 144h2V154h-2z" fill="#a9cdd3"/><path d="M514 144h6V146h-6z" fill="#53b987"/><path d="M520 128h2V136h-2z" fill="#a9cdd3"/><path d="M518 128h6V132h-6z" fill="#53b987"/><path d="M524 114h2V147h-2z" fill="#a9cdd3"/><path d="M522 114h6V116h-6z" fill="#53b987"/><path d="M524 98h6V100h-6z" fill="#53b987"/><path d="M530 111h2V121h-2z" fill="#f5a6ae"/><path d="M528 111h6V117h-6z" fill="#eb4d5c"/><path d="M534 102h2V112h-2z" fill="#a9cdd3"/><path d="M532 104h6V112h-6z" fill="#53b987"/><path d="M538 88h2V122h-2z" fill="#f5a6ae"/><path d="M536 88h6V119h-6z" fill="#eb4d5c"/><path d="M538 126h6V128h-6z" fill="#eb4d5c"/><path d="M543 144h6V146h-6z" fill="#eb4d5c"/><path d="M548 134h2V153h-2z" fill="#f5a6ae"/><path d="M546 150h6V153h-6z" fill="#eb4d5c"/><path d="M548 143h6V160h-6z" fill="#eb4d5c"/><path d="M552 162h6V164h-6z" fill="#eb4d5c"/><path d="M558 152h2V179h-2z" fill="#f5a6ae"/><path d="M556 164h6V179h-6z" fill="#eb4d5c"/><path d="M560 192h6V194h-6z" fill="#eb4d5c"/><path d="M565 203h2V212h-2z" fill="#f5a6ae"/><path d="M563 210h6V212h-6z" fill="#eb4d5c"/><path d="M568 193h2V226h-2z" fill="#a9cdd3"/><path d="M566 193h6V217h-6z" fill="#53b987"/><path d="M571 180h2V190h-2z" fill="#a9cdd3"/><path d="M569 180h6V184h-6z" fill="#53b987"/><path d="M574 171h2V200h-2z" fill="#f5a6ae"/><path d="M572 171h6V183h-6z" fill="#eb4d5c"/><path d="M578 210h2V216h-2z" fill="#f5a6ae"/><path d="M576 214h6V216h-6z" fill="#eb4d5c"/><path d="M579 226h6V230h-6z" fill="#eb4d5c"/><path d="M584 227h2V246h-2z" fill="#f5a6ae"/><path d="M582 233h6V246h-6z" fill="#eb4d5c"/><path d="M588 240h2V260h-2z" fill="#f5a6ae"/><path d="M586 254h6V260h-6z" fill="#eb4d5c"/><path d="M590 270h6V272h-6z" fill="#eb4d5c"/><path d="M593 280h6V282h-6z" fill="#eb4d5c"/><path d="M599 270h2V284h-2z" fill="#a9cdd3"/><path d="M597 270h6V282h-6z" fill="#53b987"/><path d="M600 268h6V280h-6z" fill="#53b987"/><path d="M602 278h6V290h-6z" fill="#eb4d5c"/><path d="M608 282h2V304h-2z" fill="#a9cdd3"/><path d="M606 282h6V295h-6z" fill="#53b987"/><path d="M610 272h6V280h-6z" fill="#53b987"/><path d="M614 254h6V270h-6z" fill="#53b987"/><path d="M616 274h6V277h-6z" fill="#eb4d5c"/><path d="M622 277h2V292h-2z" fill="#f5a6ae"/><path d="M620 290h6V292h-6z" fill="#eb4d5c"/><path d="M625 292h2V308h-2z" fill="#a9cdd3"/><path d="M623 298h6V308h-6z" fill="#53b987"/><path d="M626 296h6V315h-6z" fill="#53b987"/><path d="M632 295h2V316h-2z" fill="#f5a6ae"/><path d="M630 310h6V316h-6z" fill="#eb4d5c"/><path d="M634 318h6V326h-6z" fill="#eb4d5c"/><path d="M636 340h6V342h-6z" fill="#eb4d5c"/><path d="M640 354h6V356h-6z" fill="#eb4d5c"/><path d="M643 362h6V372h-6z" fill="#53b987"/><path d="M648 355h2V378h-2z" fill="#a9cdd3"/><path d="M646 355h6V375h-6z" fill="#53b987"/><path d="M650 344h6V358h-6z" fill="#eb4d5c"/><path d="M654 337h6V355h-6z" fill="#eb4d5c"/><path d="M657 340h6V360h-6z" fill="#53b987"/><path d="M660 334h6V362h-6z" fill="#53b987"/><path d="M666 322h2V334h-2z" fill="#a9cdd3"/><path d="M664 322h6V324h-6z" fill="#53b987"/><path d="M670 307h2V325h-2z" fill="#a9cdd3"/><path d="M668 307h6V312h-6z" fill="#53b987"/><path d="M670 292h6V295h-6z" fill="#53b987"/><path d="M676 284h2V310h-2z" fill="#f5a6ae"/><path d="M674 302h6V310h-6z" fill="#eb4d5c"/><path d="M680 292h2V312h-2z" fill="#a9cdd3"/><path d="M678 300h6V304h-6z" fill="#53b987"/><path d="M682 324h2V340h-2z" fill="#f5a6ae"/><path d="M680 324h6V330h-6z" fill="#eb4d5c"/><path d="M684 340h6V343h-6z" fill="#eb4d5c"/><path d="M687 358h6V360h-6z" fill="#eb4d5c"/><path d="M692 358h2V372h-2z" fill="#f5a6ae"/><path d="M690 366h6V372h-6z" fill="#eb4d5c"/><path d="M693 373h6V383h-6z" fill="#eb4d5c"/><path d="M696 384h6V390h-6z" fill="#eb4d5c"/><path d="M698 390h6V395h-6z" fill="#eb4d5c"/><path d="M702 406h6V408h-6z" fill="#eb4d5c"/><path d="M704 410h6V412h-6z" fill="#eb4d5c"/><path d="M709 412h2V424h-2z" fill="#f5a6ae"/><path d="M707 418h6V424h-6z" fill="#eb4d5c"/><path d="M711 414h2V430h-2z" fill="#f5a6ae"/><path d="M709 428h6V430h-6z" fill="#eb4d5c"/><path d="M711 420h6V436h-6z" fill="#53b987"/><path d="M714 420h6V443h-6z" fill="#eb4d5c"/><path d="M717 425h6V440h-6z" fill="#eb4d5c"/><path d="M719 423h6V447h-6z" fill="#53b987"/><path d="M722 418h6V432h-6z" fill="#53b987"/><path d="M724 417h6V435h-6z" fill="#eb4d5c"/><path d="M729 442h6V444h-6z" fill="#eb4d5c"/><path d="M733 440h6V452h-6z" fill="#eb4d5c"/><path d="M738 442h2V460h-2z" fill="#f5a6ae"/><path d="M736 442h6V457h-6z" fill="#eb4d5c"/><path d="M741 432h2V450h-2z" fill="#a9cdd3"/><path d="M739 435h6V450h-6z" fill="#53b987"/><path d="M744 422h6V424h-6z" fill="#53b987"/><path d="M748 410h2V426h-2z" fill="#a9cdd3"/><path d="M746 410h6V420h-6z" fill="#53b987"/><path d="M748 403h6V425h-6z" fill="#53b987"/><path d="M752 386h6V388h-6z" fill="#53b987"/><path d="M756 374h6V376h-6z" fill="#53b987"/><path d="M761 355h2V373h-2z" fill="#a9cdd3"/><path d="M759 358h6V373h-6z" fill="#53b987"/><path d="M763 356h6V370h-6z" fill="#53b987"/><path d="M769 350h2V375h-2z" fill="#f5a6ae"/><path d="M767 354h6V375h-6z" fill="#eb4d5c"/><path d="M771 358h6V380h-6z" fill="#53b987"/><path d="M775 354h6V385h-6z" fill="#53b987"/><path d="M781 345h2V350h-2z" fill="#a9cdd3"/><path d="M779 345h6V350h-6z" fill="#53b987"/><path d="M784 327h2V348h-2z" fill="#a9cdd3"/><path d="M782 327h6V335h-6z" fill="#53b987"/><path d="M786 340h6V347h-6z" fill="#eb4d5c"/><path d="M791 322h2V340h-2z" fill="#a9cdd3"/><path d="M789 328h6V340h-6z" fill="#53b987"/><path d="M792 325h6V340h-6z" fill="#53b987"/><path d="M798 320h2V330h-2z" fill="#a9cdd3"/><path d="M796 322h6V330h-6z" fill="#53b987"/><path d="M800 324h6V353h-6z" fill="#eb4d5c"/><path d="M803 340h6V358h-6z" fill="#eb4d5c"/><path d="M805 347h6V363h-6z" fill="#eb4d5c"/><path d="M809 334h6V345h-6z" fill="#53b987"/><path d="M814 320h2V343h-2z" fill="#a9cdd3"/><path d="M812 327h6V337h-6z" fill="#53b987"/><path d="M818 335h2V347h-2z" fill="#f5a6ae"/><path d="M816 335h6V345h-6z" fill="#eb4d5c"/><path d="M822 346h2V356h-2z" fill="#f5a6ae"/><path d="M820 352h6V356h-6z" fill="#eb4d5c"/><path d="M824 357h6V372h-6z" fill="#53b987"/><path d="M825 352h6V358h-6z" fill="#eb4d5c"/><path d="M829 360h6V368h-6z" fill="#eb4d5c"/><path d="M834 362h2V375h-2z" fill="#f5a6ae"/><path d="M832 362h6V370h-6z" fill="#eb4d5c"/><path d="M837 350h2V372h-2z" fill="#a9cdd3"/><path d="M835 350h6V363h-6z" fill="#53b987"/><path d="M840 347h6V360h-6z" fill="#eb4d5c"/><path d="M845 358h2V372h-2z" fill="#f5a6ae"/><path d="M843 362h6V372h-6z" fill="#eb4d5c"/><path d="M845 368h6V387h-6z" fill="#eb4d5c"/><path d="M850 365h2V386h-2z" fill="#a9cdd3"/><path d="M848 370h6V386h-6z" fill="#53b987"/><path d="M850 372h6V387h-6z" fill="#eb4d5c"/><path d="M853 372h6V388h-6z" fill="#eb4d5c"/><path d="M855 372h6V393h-6z" fill="#eb4d5c"/><path d="M858 386h6V396h-6z" fill="#eb4d5c"/><path d="M860 398h6V403h-6z" fill="#eb4d5c"/><path d="M864 392h6V398h-6z" fill="#eb4d5c"/><path d="M870 383h2V396h-2z" fill="#a9cdd3"/><path d="M868 390h6V396h-6z" fill="#53b987"/><path d="M870 398h6V403h-6z" fill="#eb4d5c"/><path d="M873 404h6V412h-6z" fill="#eb4d5c"/><path d="M875 407h6V417h-6z" fill="#eb4d5c"/><path d="M878 410h6V422h-6z" fill="#eb4d5c"/><path d="M880 413h6V425h-6z" fill="#eb4d5c"/><path d="M884 413h6V430h-6z" fill="#eb4d5c"/><path d="M889 422h2V434h-2z" fill="#f5a6ae"/><path d="M887 428h6V434h-6z" fill="#eb4d5c"/><path d="M889 432h6V435h-6z" fill="#eb4d5c"/><path d="M892 439h2V452h-2z" fill="#f5a6ae"/><path d="M890 439h6V441h-6z" fill="#eb4d5c"/><path d="M896 432h2V450h-2z" fill="#f5a6ae"/><path d="M894 448h6V450h-6z" fill="#eb4d5c"/><path d="M898 448h6V467h-6z" fill="#eb4d5c"/><path d="M901 457h6V470h-6z" fill="#53b987"/><path d="M903 457h6V477h-6z" fill="#53b987"/><path d="M904 438h6V452h-6z" fill="#53b987"/><path d="M907 423h6V427h-6z" fill="#53b987"/><path d="M910 420h6V436h-6z" fill="#eb4d5c"/><path d="M912 411h6V442h-6z" fill="#eb4d5c"/><path d="M916 440h2V450h-2z" fill="#a9cdd3"/><path d="M914 440h6V447h-6z" fill="#53b987"/><path d="M919 430h2V444h-2z" fill="#f5a6ae"/><path d="M917 438h6V444h-6z" fill="#eb4d5c"/><path d="M922 437h2V457h-2z" fill="#f5a6ae"/><path d="M920 437h6V445h-6z" fill="#eb4d5c"/><path d="M926 428h2V446h-2z" fill="#a9cdd3"/><path d="M924 428h6V438h-6z" fill="#53b987"/><path d="M927 427h6V435h-6z" fill="#53b987"/><path d="M931 415h2V437h-2z" fill="#f5a6ae"/><path d="M929 427h6V437h-6z" fill="#eb4d5c"/><path d="M933 443h6V447h-6z" fill="#eb4d5c"/><path d="M935 447h6V453h-6z" fill="#eb4d5c"/><path d="M937 448h6V458h-6z" fill="#eb4d5c"/><path d="M940 452h6V466h-6z" fill="#eb4d5c"/><path d="M942 452h6V472h-6z" fill="#eb4d5c"/><path d="M945 455h6V468h-6z" fill="#53b987"/><path d="M947 453h6V467h-6z" fill="#53b987"/><path d="M950 450h6V460h-6z" fill="#53b987"/><path d="M952 448h6V457h-6z" fill="#53b987"/><path d="M955 436h6V444h-6z" fill="#53b987"/><path d="M957 435h6V445h-6z" fill="#eb4d5c"/><path d="M960 438h6V450h-6z" fill="#eb4d5c"/><path d="M962 440h6V453h-6z" fill="#eb4d5c"/><path d="M965 444h6V456h-6z" fill="#eb4d5c"/><path d="M967 445h6V457h-6z" fill="#eb4d5c"/><path d="M970 446h6V457h-6z" fill="#53b987"/><path d="M972 442h6V457h-6z" fill="#53b987"/><path d="M978 430h2V445h-2z" fill="#f5a6ae"/><path d="M976 436h6V445h-6z" fill="#eb4d5c"/><path d="M979 438h6V444h-6z" fill="#eb4d5c"/><path d="M984 435h2V443h-2z" fill="#a9cdd3"/><path d="M982 440h6V443h-6z" fill="#53b987"/><path d="M985 444h6V449h-6z" fill="#eb4d5c"/><path d="M987 447h6V452h-6z" fill="#eb4d5c"/><path d="M990 450h6V454h-6z" fill="#eb4d5c"/><path d="M994 452h2V460h-2z" fill="#f5a6ae"/><path d="M992 452h6V455h-6z" fill="#eb4d5c"/><path d="M996 455h6V459h-6z" fill="#eb4d5c"/><path d="M1001 452h2V462h-2z" fill="#f5a6ae"/><path d="M999 458h6V462h-6z" fill="#eb4d5c"/><path d="M1002 462h6V466h-6z" fill="#eb4d5c"/><path d="M1006 468h6V472h-6z" fill="#eb4d5c"/><path d="M1008 470h6V473h-6z" fill="#eb4d5c"/><path d="M1011 462h6V470h-6z" fill="#53b987"/><path d="M1015 457h2V468h-2z" fill="#a9cdd3"/><path d="M1013 460h6V468h-6z" fill="#53b987"/><path d="M1016 458h6V469h-6z" fill="#eb4d5c"/><path d="M1020 462h6V466h-6z" fill="#53b987"/><path d="M1025 459h2V470h-2z" fill="#a9cdd3"/><path d="M1023 463h6V470h-6z" fill="#53b987"/><path d="M1025 463h6V470h-6z" fill="#53b987"/><path d="M1028 462h6V472h-6z" fill="#eb4d5c"/><path d="M1030 462h6V473h-6z" fill="#eb4d5c"/><path d="M1034 451h6V473h-6z" fill="#53b987"/><path d="M1038 439h2V450h-2z" fill="#a9cdd3"/><path d="M1036 439h6V441h-6z" fill="#53b987"/><path d="M1041 426h2V442h-2z" fill="#a9cdd3"/><path d="M1039 426h6V436h-6z" fill="#53b987"/><path d="M1043 420h2V430h-2z" fill="#a9cdd3"/><path d="M1041 424h6V430h-6z" fill="#53b987"/><path d="M1046 421h2V432h-2z" fill="#f5a6ae"/><path d="M1044 424h6V432h-6z" fill="#eb4d5c"/><path d="M1047 430h6V436h-6z" fill="#eb4d5c"/><path d="M1050 433h6V440h-6z" fill="#eb4d5c"/><path d="M1053 438h6V442h-6z" fill="#eb4d5c"/><path d="M1055 441h6V443h-6z" fill="#eb4d5c"/><path d="M1058 440h6V446h-6z" fill="#53b987"/><path d="M1060 439h6V449h-6z" fill="#53b987"/><path d="M1064 438h6V444h-6z" fill="#eb4d5c"/><path d="M1066 442h6V450h-6z" fill="#eb4d5c"/><path d="M1068 444h6V454h-6z" fill="#eb4d5c"/><path d="M1071 452h6V456h-6z" fill="#eb4d5c"/><path d="M1074 455h6V457h-6z" fill="#eb4d5c"/><path d="M1079 450h2V459h-2z" fill="#f5a6ae"/><path d="M1077 456h6V459h-6z" fill="#eb4d5c"/><path d="M1082 452h2V459h-2z" fill="#a9cdd3"/><path d="M1080 455h6V459h-6z" fill="#53b987"/><path d="M1086 439h2V458h-2z" fill="#a9cdd3"/><path d="M1084 454h6V458h-6z" fill="#53b987"/><path d="M1089 448h2V459h-2z" fill="#f5a6ae"/><path d="M1087 457h6V459h-6z" fill="#eb4d5c"/><path d="M1089 458h6V460h-6z" fill="#eb4d5c"/><path d="M1094 455h2V462h-2z" fill="#f5a6ae"/><path d="M1092 460h6V462h-6z" fill="#eb4d5c"/><path d="M1095 461h6V464h-6z" fill="#eb4d5c"/><path d="M1099 452h2V467h-2z" fill="#f5a6ae"/><path d="M1097 463h6V467h-6z" fill="#eb4d5c"/><path d="M1099 464h6V469h-6z" fill="#eb4d5c"/><path d="M1101 467h6V470h-6z" fill="#eb4d5c"/><path d="M1103 469h6V472h-6z" fill="#eb4d5c"/><path d="M1105 470h6V474h-6z" fill="#eb4d5c"/><path d="M1109 460h2V477h-2z" fill="#f5a6ae"/><path d="M1107 474h6V477h-6z" fill="#eb4d5c"/><path d="M1110 475h6V479h-6z" fill="#eb4d5c"/><path d="M1114 469h2V481h-2z" fill="#f5a6ae"/><path d="M1112 477h6V481h-6z" fill="#eb4d5c"/><path d="M1115 477h6V482h-6z" fill="#eb4d5c"/><path d="M1118 477h6V483h-6z" fill="#eb4d5c"/><path d="M1120 482h6V488h-6z" fill="#eb4d5c"/><path d="M1122 484h6V491h-6z" fill="#eb4d5c"/><path d="M1125 493.5h6V495.5h-6z" fill="#eb4d5c"/><path d="M1128 495h6V497h-6z" fill="#eb4d5c"/><path d="M1130 497h6V499h-6z" fill="#eb4d5c"/><path d="M1136 472h2V503h-2z" fill="#f5a6ae"/><path d="M1134 501h6V503h-6z" fill="#eb4d5c"/><path d="M1136 503h6V505h-6z" fill="#eb4d5c"/><path d="M1138 506h6V508h-6z" fill="#eb4d5c"/><path d="M1143 498h2V509h-2z" fill="#a9cdd3"/><path d="M1141 504h6V509h-6z" fill="#53b987"/><path d="M1144 502h6V506h-6z" fill="#53b987"/><path d="M1148 493h2V504h-2z" fill="#a9cdd3"/><path d="M1146 501h6V504h-6z" fill="#53b987"/><path d="M1150 502h2V510h-2z" fill="#f5a6ae"/><path d="M1148 502h6V510h-6z" fill="#eb4d5c"/><path d="M1150 506h6V511h-6z" fill="#eb4d5c"/><path d="M1154 510h2V517h-2z" fill="#f5a6ae"/><path d="M1152 510h6V512h-6z" fill="#eb4d5c"/><path d="M1157 503h2V514h-2z" fill="#f5a6ae"/><path d="M1155 510h6V514h-6z" fill="#eb4d5c"/><path d="M1157 512h6V515h-6z" fill="#eb4d5c"/><path d="M1160 514h6V518h-6z" fill="#eb4d5c"/><path d="M1164 510h2V521h-2z" fill="#a9cdd3"/><path d="M1162 514h6V521h-6z" fill="#53b987"/><path d="M1166 527h2V543h-2z" fill="#f5a6ae"/><path d="M1164 527h6V540h-6z" fill="#eb4d5c"/><path d="M1166 534h6V543h-6z" fill="#eb4d5c"/><path d="M1170 526h2V541h-2z" fill="#f5a6ae"/><path d="M1168 530h6V541h-6z" fill="#eb4d5c"/><path d="M1170 533h6V542h-6z" fill="#53b987"/><path d="M1173 520h6V540h-6z" fill="#53b987"/><path d="M1176 515h6V541h-6z" fill="#53b987"/><path d="M1182 512h2V521h-2z" fill="#f5a6ae"/><path d="M1180 514h6V521h-6z" fill="#eb4d5c"/><path d="M1183 520h6V527h-6z" fill="#eb4d5c"/><path d="M1188 527h2V534h-2z" fill="#f5a6ae"/><path d="M1186 527h6V531h-6z" fill="#eb4d5c"/><path d="M1189 527h6V532h-6z" fill="#eb4d5c"/><path d="M1193 521h2V537h-2z" fill="#a9cdd3"/><path d="M1191 521h6V529h-6z" fill="#53b987"/><path d="M1194 520h6V530h-6z" fill="#eb4d5c"/><path d="M1196 521h6V534h-6z" fill="#eb4d5c"/><path d="M1199 534h6V539h-6z" fill="#53b987"/><path d="M1202 533h6V538h-6z" fill="#eb4d5c"/><path d="M1204 532h6V540h-6z" fill="#eb4d5c"/><path d="M1207 538h6V541h-6z" fill="#eb4d5c"/><path d="M1212 528h2V540h-2z" fill="#f5a6ae"/><path d="M1210 533h6V540h-6z" fill="#eb4d5c"/><path d="M1212 534h6V541h-6z" fill="#eb4d5c"/><path d="M1214 538h6V542h-6z" fill="#eb4d5c"/><path d="M1216 540h6V543h-6z" fill="#eb4d5c"/><path d="M1220 534h6V549h-6z" fill="#53b987"/><path d="M1223 540h6V543h-6z" fill="#eb4d5c"/><path d="M1226 520h6V547h-6z" fill="#53b987"/><path d="M1232 510h2V518h-2z" fill="#a9cdd3"/><path d="M1230 510h6V513h-6z" fill="#53b987"/><path d="M1234 497h6V507h-6z" fill="#53b987"/><path d="M1236 504h6V513h-6z" fill="#eb4d5c"/><path d="M1241 510h2V520h-2z" fill="#a9cdd3"/><path d="M1239 510h6V514h-6z" fill="#53b987"/><path d="M1243 510h2V519h-2z" fill="#a9cdd3"/><path d="M1241 510h6V514h-6z" fill="#53b987"/><path d="M1244 491h6V505h-6z" fill="#53b987"/><path d="M1246 487h6V491h-6z" fill="#eb4d5c"/><path d="M1248 488h6V496h-6z" fill="#eb4d5c"/><path d="M1250 490h6V497h-6z" fill="#eb4d5c"/><path d="M1252 489h6V505h-6z" fill="#eb4d5c"/><path d="M1254 489h6V511h-6z" fill="#eb4d5c"/><path d="M1258 514h6V519h-6z" fill="#eb4d5c"/><path d="M1262 496h2V507h-2z" fill="#a9cdd3"/><path d="M1260 502h6V507h-6z" fill="#53b987"/><path d="M1263 503h6V508h-6z" fill="#eb4d5c"/><path d="M1265 504h6V509h-6z" fill="#eb4d5c"/><path d="M1268 500h6V507h-6z" fill="#eb4d5c"/><path d="M1270 499h6V508h-6z" fill="#eb4d5c"/><path d="M1273 503h6V508h-6z" fill="#53b987"/><path d="M1276 501h6V507h-6z" fill="#53b987"/><path d="M1278 497h6V504h-6z" fill="#53b987"/><path d="M1280 495h6V505h-6z" fill="#eb4d5c"/><path d="M1282 498h6V506h-6z" fill="#eb4d5c"/><path d="M1284 501h6V507h-6z" fill="#53b987"/><path d="M1288 484h6V501h-6z" fill="#53b987"/><path d="M1292 468h2V476h-2z" fill="#a9cdd3"/><path d="M1290 468h6V470h-6z" fill="#53b987"/><path d="M1296 467h2V479h-2z" fill="#f5a6ae"/><path d="M1294 467h6V475h-6z" fill="#eb4d5c"/><path d="M1300 454h2V479h-2z" fill="#a9cdd3"/><path d="M1298 464h6V467h-6z" fill="#53b987"/><path d="M1300 463h6V469h-6z" fill="#eb4d5c"/><path d="M1304 456h2V469h-2z" fill="#f5a6ae"/><path d="M1302 463h6V469h-6z" fill="#eb4d5c"/><path d="M1305 463h6V469h-6z" fill="#eb4d5c"/><path d="M1310 458h2V471h-2z" fill="#f5a6ae"/><path d="M1308 463h6V471h-6z" fill="#eb4d5c"/><path d="M1310 468h6V475h-6z" fill="#eb4d5c"/><path d="M1312 471h6V478h-6z" fill="#eb4d5c"/><path d="M1317 475h2V482h-2z" fill="#f5a6ae"/><path d="M1315 475h6V479h-6z" fill="#eb4d5c"/><path d="M1317 478h6V480h-6z" fill="#eb4d5c"/><path d="M1320 476h6V479h-6z" fill="#53b987"/><path d="M1324 466h2V479h-2z" fill="#a9cdd3"/><path d="M1322 471h6V479h-6z" fill="#53b987"/><path d="M1325 473h6V478h-6z" fill="#53b987"/><path d="M1328 474h6V478h-6z" fill="#eb4d5c"/><path d="M1331 471h6V475h-6z" fill="#53b987"/><path d="M1334 459h6V471h-6z" fill="#53b987"/><path d="M1338 447h6V453h-6z" fill="#53b987"/><path d="M1342 434h6V443h-6z" fill="#53b987"/><path d="M1346 424h6V427h-6z" fill="#53b987"/><path d="M1351 412h2V424h-2z" fill="#a9cdd3"/><path d="M1349 412h6V414h-6z" fill="#53b987"/><path d="M1354 397h2V426h-2z" fill="#a9cdd3"/><path d="M1352 397h6V413h-6z" fill="#53b987"/><path d="M1357 403h2V416h-2z" fill="#f5a6ae"/><path d="M1355 410h6V416h-6z" fill="#eb4d5c"/><path d="M1360 420h2V435h-2z" fill="#f5a6ae"/><path d="M1358 431h6V435h-6z" fill="#eb4d5c"/><path d="M1360 418h6V432h-6z" fill="#53b987"/><path d="M1362 412h6V431h-6z" fill="#53b987"/><path d="M1369 406h2V417h-2z" fill="#a9cdd3"/><path d="M1367 406h6V408h-6z" fill="#53b987"/><path d="M1372 395h2V410h-2z" fill="#a9cdd3"/><path d="M1370 398h6V410h-6z" fill="#53b987"/><path d="M1372 397h6V413h-6z" fill="#eb4d5c"/><path d="M1376 413h6V419h-6z" fill="#eb4d5c"/><path d="M1379 411h6V420h-6z" fill="#eb4d5c"/><path d="M1381 411h6V427h-6z" fill="#eb4d5c"/><path d="M1384 418h6V430h-6z" fill="#eb4d5c"/><path d="M1386 427h6V437h-6z" fill="#eb4d5c"/><path d="M1389 431h6V441h-6z" fill="#eb4d5c"/><path d="M1391 434h6V443h-6z" fill="#eb4d5c"/><path d="M1393 436h6V444h-6z" fill="#53b987"/><path d="M1396 427h6V437h-6z" fill="#53b987"/><path d="M1399 428h6V442h-6z" fill="#eb4d5c"/><path d="M1401 429h6V451h-6z" fill="#eb4d5c"/><path d="M1404 436h6V446h-6z" fill="#53b987"/><path d="M1406 434h6V447h-6z" fill="#53b987"/><path d="M1408 437h6V448h-6z" fill="#eb4d5c"/><path d="M1410 439h6V450h-6z" fill="#eb4d5c"/><path d="M1415 447h2V457h-2z" fill="#a9cdd3"/><path d="M1413 447h6V453h-6z" fill="#53b987"/><path d="M1415 444h6V449h-6z" fill="#53b987"/><path d="M1420 436h2V448h-2z" fill="#f5a6ae"/><path d="M1418 442h6V448h-6z" fill="#eb4d5c"/><path d="M1421 440h6V446h-6z" fill="#53b987"/><path d="M1423 439h6V447h-6z" fill="#53b987"/><path d="M1426 441h6V447h-6z" fill="#53b987"/><path d="M1429 446h6V449h-6z" fill="#eb4d5c"/><path d="M1431 442h6V448h-6z" fill="#eb4d5c"/><path d="M1433 442h6V449h-6z" fill="#eb4d5c"/><path d="M1438 448h2V455h-2z" fill="#a9cdd3"/><path d="M1436 448h6V453h-6z" fill="#53b987"/><path d="M1438 449h6V453h-6z" fill="#eb4d5c"/><path d="M1442 444h2V453h-2z" fill="#f5a6ae"/><path d="M1440 451h6V453h-6z" fill="#eb4d5c"/><path d="M1446 453h2V465h-2z" fill="#f5a6ae"/><path d="M1444 463h6V465h-6z" fill="#eb4d5c"/><path d="M1446 473h6V481h-6z" fill="#eb4d5c"/><path d="M1449 474h6V484h-6z" fill="#eb4d5c"/><path d="M1453 474h6V489h-6z" fill="#eb4d5c"/><path d="M1456 489h6V495h-6z" fill="#53b987"/><path d="M1461 474h2V489h-2z" fill="#a9cdd3"/><path d="M1459 484h6V489h-6z" fill="#53b987"/><path d="M1461 482h6V494h-6z" fill="#eb4d5c"/><path d="M1463 481h6V500h-6z" fill="#eb4d5c"/><path d="M1466 480h6V500h-6z" fill="#53b987"/><path d="M1468 479h6V501h-6z" fill="#53b987"/><path d="M1472 472h2V486h-2z" fill="#f5a6ae"/><path d="M1470 480h6V486h-6z" fill="#eb4d5c"/><path d="M1472 482h6V488h-6z" fill="#eb4d5c"/><path d="M1477 482h2V492h-2z" fill="#f5a6ae"/><path d="M1475 484h6V492h-6z" fill="#eb4d5c"/><path d="M1478 487h6V497h-6z" fill="#eb4d5c"/><path d="M1481 496h6V504h-6z" fill="#eb4d5c"/><path d="M1483 507h6V511h-6z" fill="#eb4d5c"/><path d="M1488 496h2V508h-2z" fill="#a9cdd3"/><path d="M1486 500h6V508h-6z" fill="#53b987"/><path d="M1488 498h6V509h-6z" fill="#53b987"/><path d="M1491 501h6V505h-6z" fill="#eb4d5c"/><path d="M1494 509h6V513h-6z" fill="#eb4d5c"/><path d="M1496 510h6V514h-6z" fill="#eb4d5c"/><path d="M1500 492h2V515h-2z" fill="#a9cdd3"/><path d="M1498 512h6V515h-6z" fill="#53b987"/><path d="M1500 504h6V515h-6z" fill="#53b987"/><path d="M1503 492h6V513h-6z" fill="#53b987"/><path d="M1505 492h6V510h-6z" fill="#53b987"/><path d="M1510 482h2V490h-2z" fill="#a9cdd3"/><path d="M1508 487h6V490h-6z" fill="#53b987"/><path d="M1510 488h6V493h-6z" fill="#eb4d5c"/><path d="M1512 490h6V498h-6z" fill="#eb4d5c"/><path d="M1514 493h6V499h-6z" fill="#eb4d5c"/><path d="M1519 497h2V502h-2z" fill="#f5a6ae"/><path d="M1517 497h6V500h-6z" fill="#eb4d5c"/><path d="M1519 495h6V499h-6z" fill="#53b987"/><path d="M1523 488h2V497h-2z" fill="#a9cdd3"/><path d="M1521 492h6V497h-6z" fill="#53b987"/><path d="M1524 494h6V503h-6z" fill="#eb4d5c"/><path d="M1525 494h6V504h-6z" fill="#eb4d5c"/><path d="M1529 501h6V506h-6z" fill="#53b987"/><path d="M1532 502h6V511h-6z" fill="#eb4d5c"/><path d="M1535 499h6V507h-6z" fill="#53b987"/><path d="M1540 506h2V512h-2z" fill="#a9cdd3"/><path d="M1538 506h6V509h-6z" fill="#53b987"/><path d="M1540 507h6V511h-6z" fill="#eb4d5c"/><path d="M1544.5 508h2V514h-2z" fill="#f5a6ae"/><path d="M1542.5 508h6V512h-6z" fill="#eb4d5c"/><path d="M1545 500h6V514h-6z" fill="#53b987"/><path d="M1548 490h6V514h-6z" fill="#53b987"/><path d="M1551 487h6V491h-6z" fill="#eb4d5c"/><path d="M1554 490h6V500h-6z" fill="#eb4d5c"/><path d="M1557 494h6V505h-6z" fill="#eb4d5c"/><path d="M1559 497h6V506h-6z" fill="#eb4d5c"/><path d="M1561 498h6V508h-6z" fill="#eb4d5c"/><path d="M1564 503h6V508h-6z" fill="#eb4d5c"/><path d="M1568 500h2V508h-2z" fill="#f5a6ae"/><path d="M1566 504h6V508h-6z" fill="#eb4d5c"/><path d="M1569 503h6V509h-6z" fill="#53b987"/><path d="M1573 499h2V511h-2z" fill="#a9cdd3"/><path d="M1571 502h6V511h-6z" fill="#53b987"/><path d="M1574 502h6V510h-6z" fill="#eb4d5c"/><path d="M1576.5 502h6V513h-6z" fill="#eb4d5c"/><path d="M1579 508h6V512h-6z" fill="#eb4d5c"/><path d="M1583 506h2V512h-2z" fill="#a9cdd3"/><path d="M1581 510h6V512h-6z" fill="#53b987"/><path d="M1584 510h6V514h-6z" fill="#eb4d5c"/><path d="M1589 508h2V515.5h-2z" fill="#f5a6ae"/><path d="M1587 512h6V515.5h-6z" fill="#eb4d5c"/><path d="M1590 509h6V516h-6z" fill="#eb4d5c"/><path d="M1592 508h6V516.6h-6z" fill="#eb4d5c"/><path d="M1594 512h6V518h-6z" fill="#eb4d5c"/><path d="M1598 515h2V524h-2z" fill="#a9cdd3"/><path d="M1596 515h6V518h-6z" fill="#53b987"/><path d="M1599.6 514h6V527.7h-6z" fill="#eb4d5c"/><path d="M1603 506h2V528h-2z" fill="#f5a6ae"/><path d="M1601 516h6V528h-6z" fill="#eb4d5c"/><path d="M1605 506h2V527h-2z" fill="#a9cdd3"/><path d="M1603 521h6V527h-6z" fill="#53b987"/><path d="M1605 514h6V522h-6z" fill="#eb4d5c"/><path d="M1607 514h6V522h-6z" fill="#eb4d5c"/><path d="M1612 516h2V528h-2z" fill="#f5a6ae"/><path d="M1610 516h6V523h-6z" fill="#eb4d5c"/><path d="M1612 517.7h6V523h-6z" fill="#eb4d5c"/><path d="M1614 518h6V528h-6z" fill="#53b987"/><path d="M1616.5 516.6h6V527.7h-6z" fill="#53b987"/><path d="M1622 511h2V516h-2z" fill="#a9cdd3"/><path d="M1620 511h6V514h-6z" fill="#53b987"/><path d="M1623.6 499h6V510h-6z" fill="#53b987"/><path d="M1626 496h6V505.5h-6z" fill="#eb4d5c"/><path d="M1628 502h6V508h-6z" fill="#eb4d5c"/><path d="M1633 506.6h2V515h-2z" fill="#f5a6ae"/><path d="M1631 506.6h6V510h-6z" fill="#eb4d5c"/><path d="M1634 505h6V510h-6z" fill="#53b987"/><path d="M1636 504h6V509h-6z" fill="#53b987"/><path d="M1638 504h6V512h-6z" fill="#eb4d5c"/><path d="M1640 504h6V515.5h-6z" fill="#eb4d5c"/><path d="M1642 510h6V518h-6z" fill="#eb4d5c"/><path d="M1644.6 510h6V516h-6z" fill="#53b987"/><path d="M1647 514h6V521h-6z" fill="#eb4d5c"/><path d="M1649 514h6V521.7h-6z" fill="#eb4d5c"/><path d="M1652 520h6V524h-6z" fill="#eb4d5c"/><path d="M1654 521h6V525h-6z" fill="#53b987"/><path d="M1658 515h2V525h-2z" fill="#f5a6ae"/><path d="M1656 522h6V525h-6z" fill="#eb4d5c"/><path d="M1658 521h6V526h-6z" fill="#eb4d5c"/><path d="M1660 522.6h6V527.7h-6z" fill="#eb4d5c"/><path d="M1662 524h6V534h-6z" fill="#eb4d5c"/><path d="M1664 524h6V535h-6z" fill="#eb4d5c"/><path d="M1667 526h6V534h-6z" fill="#53b987"/><path d="M1671 519h2V534h-2z" fill="#a9cdd3"/><path d="M1669 524h6V534h-6z" fill="#53b987"/><path d="M1672 528h6V532h-6z" fill="#eb4d5c"/><path d="M1674.6 530.6h6V534h-6z" fill="#eb4d5c"/><path d="M1679 530h2V537h-2z" fill="#a9cdd3"/><path d="M1677 530h6V535h-6z" fill="#53b987"/><path d="M1682 521h2V535h-2z" fill="#a9cdd3"/><path d="M1680 526.6h6V535h-6z" fill="#53b987"/><path d="M1682 527h6V532h-6z" fill="#53b987"/><path d="M1684 526.6h6V531h-6z" fill="#eb4d5c"/><path d="M1686 530h6V535h-6z" fill="#eb4d5c"/><path d="M1690 533h2V539h-2z" fill="#f5a6ae"/><path d="M1688 533h6V535.5h-6z" fill="#eb4d5c"/><path d="M1693 520h2V534h-2z" fill="#a9cdd3"/><path d="M1691 528h6V534h-6z" fill="#53b987"/><path d="M1693.5 528h6V534h-6z" fill="#eb4d5c"/><path d="M1696 532h6V538h-6z" fill="#eb4d5c"/><path d="M1698 538h6V541h-6z" fill="#eb4d5c"/><path d="M1701 538h6V544h-6z" fill="#eb4d5c"/><path d="M1705.5 536.6h2V547h-2z" fill="#f5a6ae"/><path d="M1703.5 536.6h6V545.5h-6z" fill="#eb4d5c"/><path d="M1708 535h2V547h-2z" fill="#a9cdd3"/><path d="M1706 535h6V545h-6z" fill="#53b987"/><path d="M1708 533h6V544h-6z" fill="#53b987"/><path d="M1710 526h6V544h-6z" fill="#53b987"/><path d="M1712 524h6V543h-6z" fill="#53b987"/><path d="M1714.6 524h6V537.7h-6z" fill="#eb4d5c"/><path d="M1719 519h2V539h-2z" fill="#a9cdd3"/><path d="M1717 524h6V539h-6z" fill="#53b987"/><path d="M1719 524h6V540h-6z" fill="#eb4d5c"/><path d="M1722 524h6V541h-6z" fill="#eb4d5c"/><path d="M1725 534h6V541h-6z" fill="#eb4d5c"/><path d="M1730 532h2V541h-2z" fill="#f5a6ae"/><path d="M1728 538h6V541h-6z" fill="#eb4d5c"/><path d="M1730 540h6V546h-6z" fill="#eb4d5c"/><path d="M1732 540h6V550h-6z" fill="#eb4d5c"/><path d="M1734 547.6h6V553h-6z" fill="#eb4d5c"/><path d="M1739 538h2V548h-2z" fill="#a9cdd3"/><path d="M1737 538h6V546h-6z" fill="#53b987"/><path d="M1741 537h2V545h-2z" fill="#a9cdd3"/><path d="M1739 539h6V545h-6z" fill="#53b987"/><path d="M1741 540h6V547.6h-6z" fill="#53b987"/><path d="M1744 543h6V548h-6z" fill="#eb4d5c"/><path d="M1747 544h6V549h-6z" fill="#eb4d5c"/><path d="M1750 541h6V550h-6z" fill="#53b987"/><path d="M1752 540h6V551h-6z" fill="#53b987"/><path d="M1754.5 540h6V551h-6z" fill="#53b987"/><path d="M1757 540h6V547h-6z" fill="#eb4d5c"/><path d="M1759 540h6V547h-6z" fill="#eb4d5c"/><path d="M1761 540h6V547h-6z" fill="#eb4d5c"/><path d="M1765 537h2V546h-2z" fill="#a9cdd3"/><path d="M1763 542h6V546h-6z" fill="#53b987"/><path d="M1765.6 541h6V545h-6z" fill="#53b987"/><path d="M1768 542h6V546h-6z" fill="#53b987"/><path d="M1771 540.5h6V544h-6z" fill="#53b987"/><path d="M1773 543h6V546h-6z" fill="#eb4d5c"/><path d="M1778 545.4h2V550h-2z" fill="#f5a6ae"/><path d="M1776 545.4h6V548h-6z" fill="#eb4d5c"/><path d="M1779 532h6V549h-6z" fill="#53b987"/><path d="M1781.6 532h6V549h-6z" fill="#53b987"/><path d="M1784 535h6V538h-6z" fill="#eb4d5c"/><path d="M1788 534h2V539h-2z" fill="#f5a6ae"/><path d="M1786 536h6V539h-6z" fill="#eb4d5c"/><path d="M1788 536h6V539h-6z" fill="#eb4d5c"/><path d="M1793 538h2V542h-2z" fill="#a9cdd3"/><path d="M1791 538h6V541h-6z" fill="#53b987"/><path d="M1793 536h6V540h-6z" fill="#53b987"/><path d="M1795 535h6V539h-6z" fill="#53b987"/><path d="M1797 534.8h6V539h-6z" fill="#53b987"/><path d="M1799 534h6V537h-6z" fill="#53b987"/><path d="M1803 532h2V536.5h-2z" fill="#a9cdd3"/><path d="M1801 533h6V536.5h-6z" fill="#53b987"/><path d="M1803 535h6V539h-6z" fill="#eb4d5c"/><path d="M1807.6 535h2V543h-2z" fill="#f5a6ae"/><path d="M1805.6 539h6V543h-6z" fill="#eb4d5c"/><path d="M1808 540h6V544h-6z" fill="#eb4d5c"/><path d="M1812 537h2V545.4h-2z" fill="#f5a6ae"/><path d="M1810 542h6V545.4h-6z" fill="#eb4d5c"/><path d="M1814 537h2V543h-2z" fill="#a9cdd3"/><path d="M1812 538h6V543h-6z" fill="#53b987"/><path d="M1815.6 536.5h6V547h-6z" fill="#53b987"/><path d="M1818 535h6V542h-6z" fill="#eb4d5c"/><path d="M1822 534h2V541h-2z" fill="#f5a6ae"/><path d="M1820 534h6V540h-6z" fill="#eb4d5c"/><path d="M1821.6 522h6V534h-6z" fill="#53b987"/><path d="M1825.6 515.8h6V517.8h-6z" fill="#53b987"/><path d="M1828 512h6V514h-6z" fill="#53b987"/><path d="M1832 508h2V512h-2z" fill="#a9cdd3"/><path d="M1830 508h6V510h-6z" fill="#53b987"/><path d="M1832 507h6V510h-6z" fill="#53b987"/><path d="M1836 501h2V511h-2z" fill="#a9cdd3"/><path d="M1834 506.6h6V508.8h-6z" fill="#53b987"/><path d="M1838 507h2V515.5h-2z" fill="#f5a6ae"/><path d="M1836 512h6V515.5h-6z" fill="#eb4d5c"/><path d="M1841 510h2V518h-2z" fill="#a9cdd3"/><path d="M1839 510h6V516h-6z" fill="#53b987"/><path d="M1841 507.7h6V515.5h-6z" fill="#53b987"/><path d="M1843 503h6V513h-6z" fill="#53b987"/><path d="M1844.5 502h6V511h-6z" fill="#53b987"/><path d="M1849 498h2V510h-2z" fill="#a9cdd3"/><path d="M1847 498h6V508h-6z" fill="#53b987"/><path d="M1849 490h6V505.5h-6z" fill="#53b987"/><path d="M1852 484h6V500h-6z" fill="#53b987"/><path d="M1854 480h6V499.5h-6z" fill="#eb4d5c"/><path d="M1856 480h6V499h-6z" fill="#eb4d5c"/><path d="M1858 483h6V499h-6z" fill="#53b987"/><path d="M1860 480h6V484h-6z" fill="#eb4d5c"/><path d="M1863 470.6h6V486.6h-6z" fill="#53b987"/><path d="M1865 470h6V480h-6z" fill="#53b987"/><path d="M1866.6 470h6V487.7h-6z" fill="#eb4d5c"/><path d="M1870 466h6V489h-6z" fill="#53b987"/><path d="M1876 456h2V460h-2z" fill="#a9cdd3"/><path d="M1874 456h6V458h-6z" fill="#53b987"/><path d="M1879 441h2V448h-2z" fill="#a9cdd3"/><path d="M1877 444h6V448h-6z" fill="#53b987"/><path d="M1880 434h6V453.7h-6z" fill="#eb4d5c"/><path d="M1882 434h6V450h-6z" fill="#eb4d5c"/><path d="M1886 434h2V454h-2z" fill="#a9cdd3"/><path d="M1884 441h6V454h-6z" fill="#53b987"/><path d="M1887 444h6V455h-6z" fill="#eb4d5c"/><path d="M1889 444h6V455.5h-6z" fill="#eb4d5c"/><path d="M1893 446h2V459h-2z" fill="#f5a6ae"/><path d="M1891 446h6V456h-6z" fill="#eb4d5c"/><path d="M1893 447.7h6V457.7h-6z" fill="#53b987"/><path d="M1897 452h2V460h-2z" fill="#f5a6ae"/><path d="M1895 452h6V457.7h-6z" fill="#eb4d5c"/><path d="M1899 446h2V455.5h-2z" fill="#f5a6ae"/><path d="M1897 452h6V455.5h-6z" fill="#eb4d5c"/><path d="M1899 452h6V455.5h-6z" fill="#eb4d5c"/><path d="M1902 452h6V455h-6z" fill="#eb4d5c"/><path d="M1907.5 448h2V458h-2z" fill="#a9cdd3"/><path d="M1905.5 452.6h6V455.5h-6z" fill="#53b987"/><path d="M1910 453h2V459h-2z" fill="#a9cdd3"/><path d="M1908 453h6V456h-6z" fill="#53b987"/><path d="M1910 452h6V455h-6z" fill="#53b987"/><path d="M1912 454h6V457h-6z" fill="#eb4d5c"/><path d="M1914 454h6V458h-6z" fill="#eb4d5c"/><path d="M1916 448h6V458h-6z" fill="#eb4d5c"/><path d="M1918 448h6V459.5h-6z" fill="#53b987"/><path d="M1921 449h6V454h-6z" fill="#eb4d5c"/><path d="M1924 444h6V457.7h-6z" fill="#53b987"/><path d="M1926 444h6V452h-6z" fill="#53b987"/><path d="M1928 448h6V451.5h-6z" fill="#eb4d5c"/><path d="M1930 444h6V449h-6z" fill="#eb4d5c"/><path d="M1932 438h6V446h-6z" fill="#53b987"/><path d="M1934 433.7h6V441h-6z" fill="#eb4d5c"/><path d="M1937 433h6V440h-6z" fill="#eb4d5c"/><path d="M1941 426h2V436h-2z" fill="#f5a6ae"/><path d="M1939 428h6V436h-6z" fill="#eb4d5c"/><path d="M1942 428h6V440h-6z" fill="#eb4d5c"/><path d="M1944 431h6V441h-6z" fill="#eb4d5c"/><path d="M1948 428h2V443h-2z" fill="#f5a6ae"/><path d="M1946 436h6V443h-6z" fill="#eb4d5c"/><path d="M1950 433h2V445h-2z" fill="#a9cdd3"/><path d="M1948 433h6V442h-6z" fill="#53b987"/><path d="M1950 434h6V443h-6z" fill="#eb4d5c"/><path d="M1952 433.7h6V443h-6z" fill="#eb4d5c"/><path d="M1954 438h6V444h-6z" fill="#eb4d5c"/><path d="M1958.6 440h2V452h-2z" fill="#f5a6ae"/><path d="M1956.6 440h6V445.5h-6z" fill="#eb4d5c"/><path d="M1961 434h2V452h-2z" fill="#a9cdd3"/><path d="M1959 434h6V444h-6z" fill="#53b987"/><path d="M1964 428h2V443h-2z" fill="#a9cdd3"/><path d="M1962 432h6V443h-6z" fill="#53b987"/><path d="M1964 432h6V438h-6z" fill="#53b987"/><path d="M1965.5 436h6V444h-6z" fill="#eb4d5c"/><path d="M1967.7 441h6V449h-6z" fill="#eb4d5c"/><path d="M1972 438h2V449h-2z" fill="#f5a6ae"/><path d="M1970 443h6V449h-6z" fill="#eb4d5c"/><path d="M1972 445h6V450h-6z" fill="#eb4d5c"/><path d="M1976 443h2V449h-2z" fill="#a9cdd3"/><path d="M1974 445.5h6V449h-6z" fill="#53b987"/><path d="M1976 448h6V452h-6z" fill="#eb4d5c"/><path d="M1979 451h6V453h-6z" fill="#eb4d5c"/><path d="M1982 453h6V462h-6z" fill="#eb4d5c"/><path d="M1984 452h6V463h-6z" fill="#eb4d5c"/><path d="M1985.5 452h6V465.5h-6z" fill="#53b987"/><path d="M1990 450h2V465h-2z" fill="#a9cdd3"/><path d="M1988 456h6V465h-6z" fill="#53b987"/><path d="M1993.7 448h2V465h-2z" fill="#a9cdd3"/><path d="M1991.7 450.6h6V455.5h-6z" fill="#53b987"/><path d="M1994 452h6V456h-6z" fill="#eb4d5c"/><path d="M1997.4 456h2V464h-2z" fill="#f5a6ae"/><path d="M1995.4 462h6V464h-6z" fill="#eb4d5c"/><path d="M1998 463h6V466h-6z" fill="#eb4d5c"/><path d="M2001 464h6V475.5h-6z" fill="#eb4d5c"/><path d="M2003 466h6V476h-6z" fill="#eb4d5c"/><path d="M2005.4 467.7h6V477.7h-6z" fill="#eb4d5c"/><path d="M2008 470h6V480h-6z" fill="#eb4d5c"/><path d="M2009 474h6V482h-6z" fill="#53b987"/><path d="M2011 474h6V485.5h-6z" fill="#53b987"/><path d="M2013 475h6V483h-6z" fill="#eb4d5c"/><path d="M2015.4 477.7h6V487.7h-6z" fill="#eb4d5c"/><path d="M2018 482h6V490h-6z" fill="#eb4d5c"/><path d="M2020 485.5h6V493h-6z" fill="#eb4d5c"/><path d="M2023 488h6V496h-6z" fill="#eb4d5c"/><path d="M2025 487.7h6V497.7h-6z" fill="#eb4d5c"/><path d="M2027 492h6V497h-6z" fill="#eb4d5c"/><path d="M2031.4 486h2V495h-2z" fill="#a9cdd3"/><path d="M2029.4 487.7h6V490h-6z" fill="#53b987"/><path d="M2031 488h6V491h-6z" fill="#eb4d5c"/><path d="M2033.4 488h6V492h-6z" fill="#eb4d5c"/><path d="M2036 493h6V501h-6z" fill="#eb4d5c"/><path d="M2040 488h2V497h-2z" fill="#a9cdd3"/><path d="M2038 491h6V497h-6z" fill="#53b987"/><path d="M2040 491h6V495.5h-6z" fill="#53b987"/><path d="M2042 494h6V500h-6z" fill="#eb4d5c"/><path d="M2043.8 495.5h6V501h-6z" fill="#eb4d5c"/><path d="M2048 492h2V501h-2z" fill="#f5a6ae"/><path d="M2046 495h6V501h-6z" fill="#eb4d5c"/><path d="M2049.4 501h6V504h-6z" fill="#eb4d5c"/><path d="M2052 501h6V506h-6z" fill="#eb4d5c"/><path d="M2055 501h6V508.8h-6z" fill="#eb4d5c"/><path d="M2057 504h6V509h-6z" fill="#eb4d5c"/><path d="M2062.5 498h2V511h-2z" fill="#f5a6ae"/><path d="M2060.5 506.6h6V511h-6z" fill="#eb4d5c"/><path d="M2063 506h6V511h-6z" fill="#eb4d5c"/><path d="M2065 506h6V514h-6z" fill="#eb4d5c"/><path d="M2068 506.6h6V518.8h-6z" fill="#eb4d5c"/><path d="M2070 508h6V519h-6z" fill="#eb4d5c"/><path d="M2072 513h6V519h-6z" fill="#53b987"/><path d="M2076 502h2V518.8h-2z" fill="#a9cdd3"/><path d="M2074 513h6V518.8h-6z" fill="#53b987"/><path d="M2077 512h6V516h-6z" fill="#53b987"/><path d="M2082 503h2V514h-2z" fill="#f5a6ae"/><path d="M2080 506h6V514h-6z" fill="#eb4d5c"/><path d="M2082 508h6V515h-6z" fill="#eb4d5c"/><path d="M2083.8 512h6V516.6h-6z" fill="#53b987"/><path d="M2088 505h2V516h-2z" fill="#a9cdd3"/><path d="M2086 510h6V516h-6z" fill="#53b987"/><path d="M2087.8 515.5h6V525.4h-6z" fill="#eb4d5c"/><path d="M2093 508h2V514h-2z" fill="#a9cdd3"/><path d="M2091 510h6V514h-6z" fill="#53b987"/><path d="M2095.8 510h2V517.7h-2z" fill="#a9cdd3"/><path d="M2093.8 512h6V517.7h-6z" fill="#53b987"/><path d="M2096 512h6V518h-6z" fill="#53b987"/><path d="M2098 517.7h6V525.4h-6z" fill="#eb4d5c"/><path d="M2102 518h2V529h-2z" fill="#f5a6ae"/><path d="M2100 518h6V524h-6z" fill="#eb4d5c"/><path d="M2102 522h6V525.4h-6z" fill="#53b987"/><path d="M2105 518h6V527h-6z" fill="#53b987"/><path d="M2108 514h6V527.7h-6z" fill="#53b987"/><path d="M2112 510h2V520h-2z" fill="#a9cdd3"/><path d="M2110 514h6V520h-6z" fill="#53b987"/><path d="M2112.7 514h6V517.7h-6z" fill="#53b987"/><path d="M2117 510h2V517h-2z" fill="#a9cdd3"/><path d="M2115 514h6V517h-6z" fill="#53b987"/><path d="M2118 516h6V519.5h-6z" fill="#eb4d5c"/><path d="M2121 516h6V520h-6z" fill="#eb4d5c"/><path d="M2125.8 508h2V521.7h-2z" fill="#a9cdd3"/><path d="M2123.8 514h6V521.7h-6z" fill="#53b987"/><path d="M2126 514h6V518h-6z" fill="#53b987"/><path d="M2131 510h2V520h-2z" fill="#f5a6ae"/><path d="M2129 514h6V520h-6z" fill="#eb4d5c"/>
<line x1="0" y1="519.1" x2="2280" y2="519.1" stroke="#fcd6da" stroke-width="2"/><line x1="0" y1="519.1" x2="2280" y2="519.1" stroke="#f0909c" stroke-width="2" stroke-dasharray="1.5 1.5"/>
</g>
<text x="1733" y="308.2" font-size="25" fill="#38761d" text-anchor="middle" direction="rtl">انجمن خبرگان بورس تهران</text>
<text x="1604" y="339.7" font-size="30" fill="#38761d" textLength="300" lengthAdjust="spacingAndGlyphs">amoozesh-boors.com</text>
<rect x="0" y="985" width="2280" height="77.9" fill="#800080" fill-opacity="0.1"/>
<line x1="0" y1="985.1" x2="2280" y2="985.1" stroke="#ababab" stroke-width="1.9" stroke-dasharray="6 5" stroke-dashoffset="2.7"/>
<line x1="0" y1="1062.9" x2="2280" y2="1062.9" stroke="#ababab" stroke-width="1.9" stroke-dasharray="6 5" stroke-dashoffset="2.7"/>
<path d="M72.3 965.1h15.3l-7.65 7.8z" fill="#c8cacc"/>
<rect x="-1" y="967.2" width="1.9" height="5.4" rx="0.9" fill="#666"/>
<rect x="108.2" y="950.1" width="27.7" height="27.8" fill="#d8d8d8"/>
<rect x="142" y="950.1" width="27.7" height="27.8" fill="#d8d8d8"/>
<rect x="176" y="950.1" width="27.7" height="27.8" fill="#d8d8d8"/>
<path d="M111.5 964Q121.9 946 132.3 964Q121.9 982 111.5 964z" fill="#fff"/><circle cx="121.9" cy="964" r="5.8" fill="#d8d8d8"/><circle cx="121.9" cy="964" r="2.3" fill="#fff"/>
<circle cx="155.8" cy="964" r="7.8" fill="#fff"/><rect x="153.85" y="953.2" width="3.9" height="6" fill="#fff" transform="rotate(0 155.8 964)"/><rect x="153.85" y="953.2" width="3.9" height="6" fill="#fff" transform="rotate(45 155.8 964)"/><rect x="153.85" y="953.2" width="3.9" height="6" fill="#fff" transform="rotate(90 155.8 964)"/><rect x="153.85" y="953.2" width="3.9" height="6" fill="#fff" transform="rotate(135 155.8 964)"/><rect x="153.85" y="953.2" width="3.9" height="6" fill="#fff" transform="rotate(180 155.8 964)"/><rect x="153.85" y="953.2" width="3.9" height="6" fill="#fff" transform="rotate(225 155.8 964)"/><rect x="153.85" y="953.2" width="3.9" height="6" fill="#fff" transform="rotate(270 155.8 964)"/><rect x="153.85" y="953.2" width="3.9" height="6" fill="#fff" transform="rotate(315 155.8 964)"/><circle cx="155.8" cy="964" r="4.1" fill="#d8d8d8"/>
<path d="M181.3 955.5l17.4 17.2m0 -17.2l-17.4 17.2" stroke="#fff" stroke-width="3.3" fill="none"/>
<text x="219.5" y="974.2" font-size="24" fill="#800080">40.5320</text>
<polyline points="0,1013 3.8,1020.5 7.5,1020.5 16.3,1011 25,1018 29,1021.8 37,1006.7 43,1026.8 46.5,1015.5 51.5,1023 56.6,1019 60,1020.5 62.8,1028 67.4,1016.7 70.9,1030.5 72.9,991 76.7,1019 80.4,1003 82.5,1004.7 86.7,989 90.5,977 94.3,975 100.5,973 105.6,989 110.6,998.4 116,982.8 120.7,990 124.4,989 128.7,1003 134.5,1003 138.8,990.8 144.5,994.9 149.6,1004 154.6,1018 159.6,1016.7 166,1023 172,1032.6 174.7,1020.5 181,1011.7 184.8,1004.7 189.8,1013 194.8,1015 199.8,992.8 203.6,979 209,976.5 213.7,1001.6 218,1029 222.5,1008 227.5,1023 232.5,1010.4 238.8,992.8 243.8,985 250,979 253.9,970 261.4,960 266.5,954 271.5,957.7 281.5,951.4 291,946.3 294,955 296.6,954 305,979 308,970 314,966.5 320.5,959 326.8,951.4 330.6,962.7 334.8,982.8 339.4,974.7 344.9,970.7 349,985 352,1003 355.7,1015.5 359.5,1025 365.8,1019 369.5,1009 373.3,1007.4 375.8,1026.8 379,1035 383.4,1030.5 388.4,1019 394.7,1003 399.7,991.6 403.5,984.8 405.2,1001 408.5,1001 417.3,991.6 418.6,985.8 423.6,979 427.4,976.5 433.6,967.7 440,959 446.2,954 449.2,951.4 452.5,972.7 457.5,967.7 461.3,965 463.8,969 467.6,984.8 471.3,988.3 473.9,1004 476.9,1005 483,1028.8 489,1013 496.5,996.6 502.8,984 509,974 515.3,965 521.6,957.7 525.4,955 527,951 531,971.5 535.4,967 540.5,985 545.5,1003 551.8,1013 555.6,1016 559.3,1024 564.9,1040.6 570.6,1028 574.4,1024 579.4,1040.6 584.5,1049.4 590.7,1057 595.8,1061.5 600,1060.7 605,1062.5 612.6,1050.7 617,1048.7 623.9,1059.5 627,1062.5 628.9,1057 634,1064 637,1065 639.7,1071 646.5,1074.5 652.8,1068.8 657,1070.8 661,1067 663,1052 667,1041.9 672.9,1023 676.7,1028.5 681,1029 683,1042.6 691.8,1058 700.6,1067 711,1077 714.9,1070.8 716.9,1077 721.9,1067 724.9,1057 727,1063 730.7,1066.5 735.7,1067 739,1069 740.8,1055.7 745,1046 748.8,1043 752,1030.5 755.9,1021.8 758.9,1016.7 760.9,1011 764.7,1009 768.9,1010.4 770.9,1018.7 774.7,1014 784.8,994.9 789,1000.9 794.8,992.8 799,992 801,1000 804.9,1020.5 809,1025 813,1006.7 817.4,1000.9 819,1016.7 823,1024.8 828.8,1024.8 833.8,1031 837,1033 838.8,1020.5 842.6,1024 846,1033 848.9,1042.6 852.6,1035 857.7,1043 861,1045 863,1049 867,1046.9 871,1040.6 874,1047 881,1059 882.8,1052.7 887.8,1057.5 897.9,1067.8 901,1072.8 904.9,1062.7 907,1046.9 911,1034.8 914.7,1045 917,1042.6 925,1046.9 926.8,1032.6 931.8,1039 938.9,1046.9 944.9,1057 948.9,1040.6 951.9,1038 954.9,1036.8 959,1028.8 961,1034 968,1038 970.8,1040.6 974.6,1026.8 982.6,1030.5 984.9,1024.8 988.9,1035 995,1038.6 998,1038.6 1004.7,1048.7 1009,1049 1013,1055 1014.8,1038.6 1018.6,1044.9 1023.6,1038.6 1026.8,1038.6 1028.6,1045 1032.9,1046.9 1034.9,1030.5 1037.9,1013 1042.9,996.6 1052.5,1011.7 1057.5,1018.5 1061.3,1020.5 1062.5,1015 1066.3,1018.5 1070,1028 1073,1032.6 1080.6,1036.8 1086.9,1031 1093,1040.6 1100,1044.9 1104,1050.7 1107,1057 1114,1060.7 1120.9,1065.7 1125.4,1073 1127.9,1075 1134.7,1078.8 1137.5,1083 1141,1084.6 1145.5,1074.5 1148.8,1065 1150.5,1072 1154,1075.8 1160,1078 1164.9,1077 1166.9,1083.8 1169.4,1090.9 1171,1090 1175,1079.6 1179,1050.7 1182.7,1054 1186.5,1060 1189.5,1062.5 1193,1062 1195,1052 1198,1058.7 1200,1060.7 1205,1063 1208.8,1064.5 1213,1058.7 1215,1064.5 1219,1066.5 1223,1048.7 1226.9,1059 1228.9,1020.5 1232.7,1011 1237,1004.7 1239,1014.7 1243,1012.5 1247,994.9 1249,999 1252.8,1001.6 1257,1020.5 1260.8,1025 1262.8,1013 1271.6,1016.7 1277,1016.7 1280.9,1006.7 1283,1016.7 1286.7,1013 1290,1000 1293,982 1296.8,994.6 1301,987 1304,992 1306.8,990.8 1314.9,1006.7 1321,1009 1324,1009 1326.9,1004.7 1330.7,1006.7 1335,1003 1337,989 1344.5,974.7 1350.8,961 1355,960.7 1358.9,970 1360.9,994 1364.7,982 1368,977.8 1370.9,970 1374.7,992.8 1378.5,998.4 1382.8,1001.6 1385,1010.4 1389,1018 1393,1022.5 1394.8,1021 1398.6,1021 1403,1028.8 1404.9,1028.8 1409,1016.7 1413,1035 1415.7,1028.8 1428.8,1028.8 1433.8,1031 1438.8,1031 1442.6,1036.8 1445.9,1048 1448.9,1064.5 1452.6,1065 1456.9,1070.8 1460,1064 1463.4,1060.7 1467,1071.5 1470.7,1045 1476.5,1048 1481,1056.4 1482.8,1056.4 1486.6,1062.5 1491,1052.7 1497,1062.5 1501,1058 1504.9,1048 1507,1035 1511,1031 1517,1040.6 1521,1040.6 1525,1031 1526.8,1042.6 1531,1038.8 1534.8,1049 1536.8,1042.6 1540.6,1042.4 1545.6,1046.9 1548.9,1046.9 1551,1018.7 1554.9,1020.5 1561,1034.8 1569,1038.6 1571.5,1034 1575,1032.6 1579,1040.6 1581.6,1043 1584.6,1041 1588.9,1044.9 1592.9,1038.8 1595,1046.9 1598.9,1045 1603,1057 1604.7,1043 1609,1045 1613,1041 1614.8,1046.9 1618.6,1033.8 1623.6,1023.5 1626.8,1009 1628.6,1020.5 1632.4,1024 1636.7,1026.8 1639,1024.8 1642.9,1032.6 1646.7,1033 1652.5,1040.6 1656,1044.4 1662.5,1046.9 1667,1059 1670.8,1049 1672.6,1048.7 1680.6,1057 1682.7,1038.8 1686.4,1042.4 1690.7,1051 1693,1043 1697,1044.9 1701,1052 1707,1060.7 1711.6,1036.8 1715,1022.5 1716.6,1036.8 1720.9,1023 1726.6,1038.6 1730.4,1038.8 1736.7,1048.7 1745,1035 1751,1044.9 1754.8,1043 1758.6,1043 1760.6,1031 1764.9,1036.8 1768.9,1033 1771,1034.8 1774.9,1035 1778.9,1039 1780.7,1038.8 1784.5,1010.4 1788.7,1018.7 1792.5,1023 1795.8,1023 1804,1016.7 1805.9,1020.5 1809,1032.6 1813.4,1037 1815.4,1036.8 1819,1018.7 1823,1018.5 1825,994.9 1831,982 1833.5,977.8 1837,975 1838.5,994.9 1842.8,992.8 1847,982.8 1849,982 1853,973 1856.9,991 1858.6,977 1862.4,978.5 1867.4,970.7 1870.7,997.9 1873,983 1881,969 1882.5,984 1886.8,979 1891,989 1893.8,990 1896,989 1900.9,994.9 1911,994.9 1915,1001 1917,1001 1921,994.9 1924.8,1000.9 1927,992.8 1930.8,998.4 1935,989 1937,992 1941,987 1945.9,995.4 1949,998.4 1951.7,999 1955.9,1003 1959,1004.7 1961,1003 1965,990.8 1968.7,1010.4 1970.5,1013 1975.5,1023 1981,1023 1985,1040.6 1989,1027.5 1992.6,1027 1995,1023 1998.9,1040 2002.7,1040.6 2005,1052 2008.7,1054 2012.7,1058.7 2015,1049 2018,1055 2024.5,1065 2028.8,1065 2032.8,1055 2037,1056.4 2039,1064.5 2042.9,1052.7 2048,1060 2056,1064.5 2061.8,1068 2066,1069 2072.8,1075 2081,1055 2083,1058.7 2086.9,1059 2091,1071.5 2092.9,1053 2097,1045 2101,1057 2103,1057 2106.8,1053 2111,1041 2115,1040.6 2117,1036.8 2120.8,1043 2124.6,1044.9 2127,1034.8 2131.4,1043" fill="none" stroke="#9c27b0" stroke-opacity="0.78" stroke-width="1.5" stroke-linejoin="round" clip-path="url(#cr)"/>
<text x="11.3" y="1052.9" font-size="28.4" fill="#fff" stroke="#fff" stroke-width="6.5" stroke-opacity="0.85" stroke-linejoin="round" textLength="266" lengthAdjust="spacingAndGlyphs">Chart by TradingView</text>
<text x="11.3" y="1052.9" font-size="28.4" fill="#2da0eb" textLength="266" lengthAdjust="spacingAndGlyphs">Chart by TradingView</text>
<rect x="0" y="936" width="2387" height="2.2" fill="#464646"/>
<rect x="2282.2" y="0" width="2.2" height="1104" fill="#464646"/>
<rect x="0" y="1101.7" width="2284.4" height="2.2" fill="#464646"/>
<rect x="0" y="1139.5" width="2387" height="1.5" fill="#e1e1e1"/>
<rect x="2283.5" y="38.1" width="6.6" height="2" fill="#484848"/>
<text x="2296.3" y="48.3" font-size="22" fill="#4d4d4d">30500.00</text>
<rect x="2283.5" y="114.1" width="6.6" height="2" fill="#484848"/>
<text x="2296.3" y="124.3" font-size="22" fill="#4d4d4d">24500.00</text>
<rect x="2283.5" y="173.8" width="6.6" height="2" fill="#484848"/>
<text x="2296.3" y="184" font-size="22" fill="#4d4d4d">20500.00</text>
<rect x="2283.5" y="248.2" width="6.6" height="2" fill="#484848"/>
<text x="2296.3" y="258.4" font-size="22" fill="#4d4d4d">16500.00</text>
<rect x="2283.5" y="318.2" width="6.6" height="2" fill="#484848"/>
<text x="2296.3" y="328.4" font-size="22" fill="#4d4d4d">13500.00</text>
<rect x="2283.5" y="404.3" width="6.6" height="2" fill="#484848"/>
<text x="2296.3" y="414.5" font-size="22" fill="#4d4d4d">10500.00</text>
<rect x="2283.5" y="476.3" width="6.6" height="2" fill="#484848"/>
<text x="2296.3" y="486.5" font-size="22" fill="#4d4d4d">8500.00</text>
<rect x="2283.5" y="616.1" width="6.6" height="2" fill="#484848"/>
<text x="2296.3" y="626.3" font-size="22" fill="#4d4d4d">5650.00</text>
<rect x="2283.5" y="682.4" width="6.6" height="2" fill="#484848"/>
<text x="2296.3" y="692.6" font-size="22" fill="#4d4d4d">4650.00</text>
<rect x="2283.5" y="745.9" width="6.6" height="2" fill="#484848"/>
<text x="2296.3" y="756.1" font-size="22" fill="#4d4d4d">3850.00</text>
<rect x="2283.5" y="804.2" width="6.6" height="2" fill="#484848"/>
<text x="2296.3" y="814.4" font-size="22" fill="#4d4d4d">3250.00</text>
<rect x="2283.5" y="862.1" width="6.6" height="2" fill="#484848"/>
<text x="2296.3" y="872.3" font-size="22" fill="#4d4d4d">2750.00</text>
<rect x="2283.5" y="922.6" width="6.6" height="2" fill="#484848"/>
<text x="2296.3" y="932.8" font-size="22" fill="#4d4d4d">2310.00</text>
<rect x="2283.5" y="964.2" width="6.6" height="2" fill="#484848"/>
<text x="2296.3" y="974.4" font-size="22" fill="#4d4d4d">80.0000</text>
<rect x="2283.5" y="1042.4" width="6.6" height="2" fill="#484848"/>
<text x="2296.3" y="1052.6" font-size="22" fill="#4d4d4d">40.0000</text>
<rect x="2282" y="504.1" width="100.3" height="31.9" fill="#eb4d5c"/>
<rect x="2282" y="535.9" width="100.3" height="31.6" fill="#38761d"/>
<rect x="2282.5" y="517.8" width="5.5" height="2" fill="#f7b4bc"/>
<rect x="2282.5" y="549.9" width="5.5" height="2" fill="#9bbb8e"/>
<text x="2296.3" y="527.9" font-size="22" fill="#fff">7500.00</text>
<text x="2296.3" y="560.5" font-size="22" fill="#fff">7000.00</text>
<rect x="68" y="1103" width="2" height="6.3" fill="#464646"/>
<text x="68.5" y="1132.4" font-size="22" font-weight="bold" fill="#4d4d4d" text-anchor="middle">2020</text>
<rect x="261.7" y="1103" width="2" height="6.3" fill="#464646"/>
<text x="262.7" y="1129.2" font-size="20" fill="#4d4d4d" text-anchor="middle" direction="rtl">فروردین</text>
<rect x="449.7" y="1103" width="2" height="6.3" fill="#464646"/>
<text x="450.7" y="1129.2" font-size="20" fill="#4d4d4d" text-anchor="middle" direction="rtl">تیر</text>
<rect x="653.8" y="1103" width="2" height="6.3" fill="#464646"/>
<text x="654.8" y="1129.2" font-size="20" fill="#4d4d4d" text-anchor="middle" direction="rtl">مهر</text>
<rect x="863.5" y="1103" width="2" height="6.3" fill="#464646"/>
<text x="864" y="1132.4" font-size="22" font-weight="bold" fill="#4d4d4d" text-anchor="middle">2021</text>
<rect x="1058" y="1103" width="2" height="6.3" fill="#464646"/>
<text x="1059" y="1129.2" font-size="20" fill="#4d4d4d" text-anchor="middle" direction="rtl">فروردین</text>
<rect x="1257.6" y="1103" width="2" height="6.3" fill="#464646"/>
<text x="1258.6" y="1129.2" font-size="20" fill="#4d4d4d" text-anchor="middle" direction="rtl">تیر</text>
<rect x="1433.5" y="1103" width="2" height="6.3" fill="#464646"/>
<text x="1434.5" y="1129.2" font-size="20" fill="#4d4d4d" text-anchor="middle" direction="rtl">مهر</text>
<rect x="1647.7" y="1103" width="2" height="6.3" fill="#464646"/>
<text x="1648.2" y="1132.4" font-size="22" font-weight="bold" fill="#4d4d4d" text-anchor="middle">2022</text>
<rect x="1848" y="1103" width="2" height="6.3" fill="#464646"/>
<text x="1849" y="1129.2" font-size="20" fill="#4d4d4d" text-anchor="middle" direction="rtl">فروردین</text>
<rect x="2039.9" y="1103" width="2" height="6.3" fill="#464646"/>
<text x="2040.9" y="1129.2" font-size="20" fill="#4d4d4d" text-anchor="middle" direction="rtl">تیر</text>
<rect x="2248" y="1103" width="2" height="6.3" fill="#464646"/>
<text x="2249" y="1129.2" font-size="20" fill="#4d4d4d" text-anchor="middle" direction="rtl">مهر</text>
</svg>
</body></html>
